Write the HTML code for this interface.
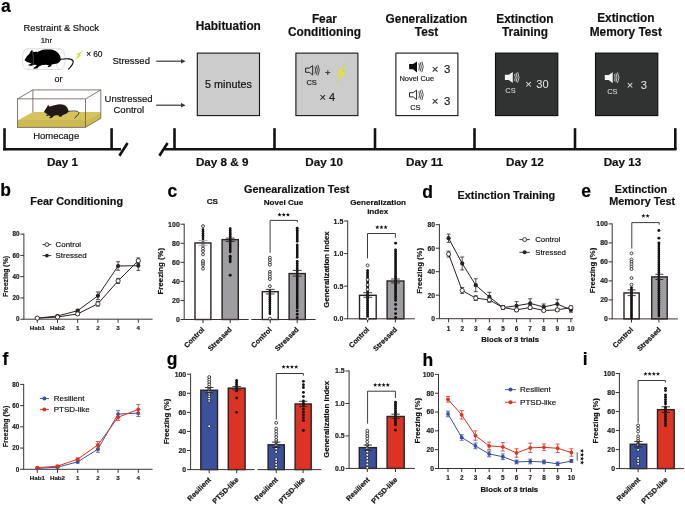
<!DOCTYPE html>
<html><head><meta charset="utf-8"><title>Figure</title>
<style>html,body{margin:0;padding:0;background:#fff;}svg{display:block;will-change:transform;}
text{font-family:"Liberation Sans", sans-serif;}</style></head>
<body><svg width="685" height="505" viewBox="0 0 685 505">
<rect width="685" height="505" fill="#fff"/>
<text x="0.9" y="11.6" font-size="17.5" font-weight="bold" text-anchor="start" fill="#000" stroke="#000" stroke-width="0.18">a</text>
<text x="0.3" y="196.4" font-size="17.5" font-weight="bold" text-anchor="start" fill="#000" stroke="#000" stroke-width="0.18">b</text>
<text x="167.6" y="196.7" font-size="17.5" font-weight="bold" text-anchor="start" fill="#000" stroke="#000" stroke-width="0.18">c</text>
<text x="422.2" y="197.9" font-size="17.5" font-weight="bold" text-anchor="start" fill="#000" stroke="#000" stroke-width="0.18">d</text>
<text x="581.2" y="196.9" font-size="17.5" font-weight="bold" text-anchor="start" fill="#000" stroke="#000" stroke-width="0.18">e</text>
<text x="2.6" y="364.8" font-size="17.5" font-weight="bold" text-anchor="start" fill="#000" stroke="#000" stroke-width="0.18">f</text>
<text x="166.8" y="365.3" font-size="17.5" font-weight="bold" text-anchor="start" fill="#000" stroke="#000" stroke-width="0.18">g</text>
<text x="422.6" y="365.6" font-size="17.5" font-weight="bold" text-anchor="start" fill="#000" stroke="#000" stroke-width="0.18">h</text>
<text x="582.8" y="364.7" font-size="17.5" font-weight="bold" text-anchor="start" fill="#000" stroke="#000" stroke-width="0.18">i</text>
<text x="61.3" y="30.6" font-size="9.45" font-weight="normal" text-anchor="middle" fill="#111" stroke="#111" stroke-width="0.18">Restraint &amp; Shock</text>
<text x="46.4" y="42.6" font-size="7.8" font-weight="normal" text-anchor="middle" fill="#111" stroke="#111" stroke-width="0.18">1hr</text>
<g fill="none" stroke="#c4c4c4" stroke-width="0.55"><path d="M27.2,48.7 L60.2,48.7 C63.2,48.7 65.1,53.5 65.1,59.1 C65.1,64.7 63.2,69.5 60.2,69.5 L27.2,69.5 C24.2,69.5 22.3,64.7 22.3,59.1 C22.3,53.5 24.2,48.7 27.2,48.7 Z"/><path d="M27.2,48.7 C29.8,48.7 31.4,53.5 31.4,59.1 C31.4,64.7 29.8,69.5 27.2,69.5"/><path d="M60.2,48.7 C57.6,48.7 55.6,53.5 55.6,59.1 C55.6,64.7 57.6,69.5 60.2,69.5"/></g>
<path fill="#000" d="M24.6,60.3 C25.2,58.6 26,57.3 26.7,56.4 C27.6,55.3 28.5,54.4 29.4,53.7 L31.1,50.4 L32.1,50 L33.1,51.7 L34.8,52 L36.5,51.4 L37.1,52.3 C38,51.6 39,51 40.1,50.7 C42,49.9 43.7,49.4 45.5,49.4 L50.9,49.4 C53,49.6 54.8,50.3 56.3,51.4 C57.9,52.6 59,53.8 59.6,55.1 C60.2,56.3 60.5,57.3 60.6,58.4 L61,59.4 C60.6,60.4 60.2,61.1 59.6,61.8 C58.9,62.6 58.2,63.1 57.3,63.5 L51.6,64.5 L51.2,66.2 L48.2,67.2 L47.6,66.5 L49.2,65.6 L46.2,64.8 L42.2,65.1 L38.8,66.5 L37.5,68.2 L34.1,68.8 L33.1,68.2 L35.4,66.8 L36.8,65.1 L34.4,64.8 L31.4,65.8 L28.4,65.5 L28.7,64.5 L31.8,63.8 L29.4,62.8 C28.4,62.6 27.5,62.3 26.7,61.8 C25.9,61.4 25.2,60.9 24.6,60.3 Z"/>
<path fill="none" stroke="#000" stroke-width="1.1" stroke-linecap="round" d="M60.6,59.3 C63,59 66,58.6 68.8,58.9 C71.3,59.2 73.4,60.2 73.2,62.2 C73,64.2 71.4,66 70.2,67.3 C69.4,68.1 68.9,68.6 68.6,69.1"/>
<path fill="none" stroke="#b0b0b0" stroke-width="0.4" d="M31.9,50.6 C33.4,54 33.7,59 33.2,63.5 C33,65 32.8,66 32.6,66.8"/>
<polygon fill="#d6e13c" points="82.8,50.9 75.7,54.5 78.4,54.9 74.7,60.1 81.3,55.5 79.5,55.1"/>
<text x="88.8" y="57.3" font-size="8.4" font-weight="normal" text-anchor="middle" fill="#111" stroke="#111" stroke-width="0.18">×</text>
<text x="97.8" y="57.4" font-size="8.4" font-weight="normal" text-anchor="middle" fill="#111" stroke="#111" stroke-width="0.18">60</text>
<text x="58.5" y="81.8" font-size="9.0" font-weight="normal" text-anchor="middle" fill="#111" stroke="#111" stroke-width="0.18">or</text>
<polygon points="17.6,120.4 85.6,120.4 100.8,112 32.9,112" fill="#d6c35e"/>
<polygon points="17.6,120.4 85.6,120.4 85.6,127.3 17.6,127.3" fill="#cfba50"/>
<polygon points="85.6,120.4 100.8,112 100.8,118.3 85.6,127.3" fill="#cfba50"/>
<g fill="none" stroke="#5a4d47" stroke-width="0.75"><rect x="17.6" y="98.9" width="68" height="28.4"/><polyline points="17.6,98.9 32.9,89.9 100.8,89.9 85.6,98.9"/><polyline points="100.8,89.9 100.8,118.3 85.6,127.3"/><line x1="32.9" y1="89.9" x2="32.9" y2="112"/></g>
<line x1="17.6" y1="120.6" x2="85.6" y2="120.6" stroke="#b8a44a" stroke-width="0.6"/>
<path fill="#231815" d="M44,111.8 C44.6,110.6 45.3,109.5 46.1,108.6 L47.8,105.4 L48.4,105 L49.3,106.5 L50.8,106.3 L51.6,106.1 C52.8,105.6 54,105.3 55.4,105.1 C57,104.6 58.5,104.2 60.1,104.2 C61.6,104.2 63,104.5 64.2,105.1 C65.5,105.8 66.5,106.6 67.1,107.4 C67.8,108.4 68.2,109.4 68.3,110.3 L68.6,111.5 C68.4,111.9 68.1,112.2 67.7,112.4 C67,113.2 66.2,113.7 65.4,114.1 L62.4,115.3 L61.3,116.8 L58.9,116.5 L58.4,115.3 L56,115.3 L53.7,115.9 L52.5,117.6 L49.6,118.5 L49.3,117.6 L50.8,116.5 L49,115.6 L46.4,116.1 L46.2,115 L47.8,114.4 L45.5,113 C44.9,112.7 44.4,112.3 44,111.8 Z"/>
<path fill="none" stroke="#231815" stroke-width="0.85" stroke-linecap="round" d="M68.3,111.4 C70,111.2 71.8,111 73.5,111 C75.2,111 76.7,111.2 77.6,111.5 C78.6,112 79,112.6 78.8,113.3 C78.5,114.2 77.9,114.8 77.3,115.5 C76.4,116.4 75.4,117.2 74.7,117.9"/>
<text x="56.2" y="139.3" font-size="9.5" font-weight="normal" text-anchor="middle" fill="#111" stroke="#111" stroke-width="0.18">Homecage</text>
<text x="131.2" y="63.6" font-size="9.5" font-weight="normal" text-anchor="middle" fill="#111" stroke="#111" stroke-width="0.18">Stressed</text>
<text x="128.6" y="102.2" font-size="9.5" font-weight="normal" text-anchor="middle" fill="#111" stroke="#111" stroke-width="0.18">Unstressed</text>
<text x="128.8" y="113.2" font-size="9.5" font-weight="normal" text-anchor="middle" fill="#111" stroke="#111" stroke-width="0.18">Control</text>
<line x1="156.20" y1="61.20" x2="182.60" y2="61.20" stroke="#3d3330" stroke-width="1.2"/>
<polygon points="181.0,59.0 185.6,61.2 181.0,63.400000000000006" fill="#3d3330"/>
<line x1="156.20" y1="105.20" x2="182.60" y2="105.20" stroke="#3d3330" stroke-width="1.2"/>
<polygon points="181.0,103.0 185.6,105.2 181.0,107.4" fill="#3d3330"/>
<line x1="4.50" y1="128.20" x2="4.50" y2="150.40" stroke="#111" stroke-width="2.6"/>
<line x1="3.20" y1="149.20" x2="121.00" y2="149.20" stroke="#111" stroke-width="2.6"/>
<line x1="111.60" y1="128.20" x2="111.60" y2="149.20" stroke="#111" stroke-width="2.6"/>
<line x1="119.40" y1="155.80" x2="127.60" y2="143.00" stroke="#111" stroke-width="2.6"/>
<line x1="159.40" y1="155.80" x2="167.60" y2="143.00" stroke="#111" stroke-width="2.6"/>
<line x1="164.60" y1="149.20" x2="676.60" y2="149.20" stroke="#111" stroke-width="2.6"/>
<line x1="174.50" y1="128.20" x2="174.50" y2="149.20" stroke="#111" stroke-width="2.6"/>
<line x1="274.50" y1="128.20" x2="274.50" y2="149.20" stroke="#111" stroke-width="2.6"/>
<line x1="375.00" y1="128.20" x2="375.00" y2="149.20" stroke="#111" stroke-width="2.6"/>
<line x1="474.50" y1="128.20" x2="474.50" y2="149.20" stroke="#111" stroke-width="2.6"/>
<line x1="575.00" y1="128.20" x2="575.00" y2="149.20" stroke="#111" stroke-width="2.6"/>
<line x1="675.30" y1="128.20" x2="675.30" y2="149.20" stroke="#111" stroke-width="2.6"/>
<text x="62.5" y="166.2" font-size="11.7" font-weight="bold" text-anchor="middle" fill="#111" stroke="#111" stroke-width="0.18">Day 1</text>
<text x="222.2" y="166.2" font-size="11.7" font-weight="bold" text-anchor="middle" fill="#111" stroke="#111" stroke-width="0.18">Day 8 &amp; 9</text>
<text x="324.1" y="166.2" font-size="11.7" font-weight="bold" text-anchor="middle" fill="#111" stroke="#111" stroke-width="0.18">Day 10</text>
<text x="424.6" y="166.2" font-size="11.7" font-weight="bold" text-anchor="middle" fill="#111" stroke="#111" stroke-width="0.18">Day 11</text>
<text x="524.9" y="166.2" font-size="11.7" font-weight="bold" text-anchor="middle" fill="#111" stroke="#111" stroke-width="0.18">Day 12</text>
<text x="622.5" y="166.2" font-size="11.7" font-weight="bold" text-anchor="middle" fill="#111" stroke="#111" stroke-width="0.18">Day 13</text>
<text x="228.3" y="29.8" font-size="11.85" font-weight="bold" text-anchor="middle" fill="#111" stroke="#111" stroke-width="0.18">Habituation</text>
<text x="324.4" y="22.8" font-size="11.85" font-weight="bold" text-anchor="middle" fill="#111" stroke="#111" stroke-width="0.18">Fear</text>
<text x="324.5" y="36.3" font-size="11.85" font-weight="bold" text-anchor="middle" fill="#111" stroke="#111" stroke-width="0.18">Conditioning</text>
<text x="426.4" y="22.8" font-size="11.85" font-weight="bold" text-anchor="middle" fill="#111" stroke="#111" stroke-width="0.18">Generalization</text>
<text x="426.6" y="36.3" font-size="11.85" font-weight="bold" text-anchor="middle" fill="#111" stroke="#111" stroke-width="0.18">Test</text>
<text x="524.9" y="22.8" font-size="11.85" font-weight="bold" text-anchor="middle" fill="#111" stroke="#111" stroke-width="0.18">Extinction</text>
<text x="525.0" y="36.3" font-size="11.85" font-weight="bold" text-anchor="middle" fill="#111" stroke="#111" stroke-width="0.18">Training</text>
<text x="625.8" y="21.9" font-size="11.85" font-weight="bold" text-anchor="middle" fill="#111" stroke="#111" stroke-width="0.18">Extinction</text>
<text x="625.8" y="36.3" font-size="11.85" font-weight="bold" text-anchor="middle" fill="#111" stroke="#111" stroke-width="0.18">Memory Test</text>
<rect x="197.30" y="53.10" width="62.20" height="62.50" fill="#cbcccb" stroke="#161616" stroke-width="1.1"/>
<rect x="295.90" y="53.10" width="62.00" height="62.50" fill="#cbcccb" stroke="#161616" stroke-width="1.1"/>
<rect x="395.90" y="53.10" width="62.00" height="62.50" fill="#ffffff" stroke="#161616" stroke-width="1.1"/>
<rect x="495.50" y="53.10" width="62.30" height="62.50" fill="#313232" stroke="#0c0c0c" stroke-width="1.1"/>
<rect x="595.50" y="53.10" width="62.30" height="62.50" fill="#313232" stroke="#0c0c0c" stroke-width="1.1"/>
<text x="228.4" y="87.9" font-size="10.8" font-weight="normal" text-anchor="middle" fill="#111" stroke="#111" stroke-width="0.18">5 minutes</text>
<path transform="translate(305.0,64.7) scale(1.0)" d="M0.6,3.4 L4.3,3.4 L7.7,0.9 L7.7,10.3 L4.3,7.6 L0.6,7.6 Z" fill="none" stroke="#1a1a1a" stroke-width="0.95" stroke-linejoin="round"/>
<g transform="translate(305.0,64.7) scale(1.0)" fill="none" stroke="#1a1a1a" stroke-width="0.75"><path d="M10.0,2.0 Q11.1,5.5 10.0,9.0"/><path d="M11.4,1.0 Q13.3,5.5 11.4,10.0"/><path d="M12.9,0.2 Q15.8,5.5 12.9,10.8"/></g>
<text x="311.6" y="84.6" font-size="7.5" font-weight="normal" text-anchor="middle" fill="#1a1a1a" stroke="#1a1a1a" stroke-width="0.18">CS</text>
<text x="327.9" y="75.6" font-size="9.6" font-weight="normal" text-anchor="middle" fill="#1a1a1a" stroke="#1a1a1a" stroke-width="0.18">+</text>
<path fill="#e3e545" stroke="#c9c83a" stroke-width="0.3" d="M344.9,62.9 L336.3,73.9 L340.9,73.1 L337.5,82.3 L346.3,71.4 L341.7,72.1 Z"/>
<text x="322.8" y="101.2" font-size="11.0" font-weight="normal" text-anchor="middle" fill="#1a1a1a" stroke="#1a1a1a" stroke-width="0.18">×</text>
<text x="332.1" y="101.2" font-size="11.0" font-weight="normal" text-anchor="middle" fill="#1a1a1a" stroke="#1a1a1a" stroke-width="0.18">4</text>
<path transform="translate(408.9,61.3) scale(1.0)" d="M0.2,2.8 L4.1,2.8 L8.1,0.1 L8.1,11.1 L4.1,7.9 L0.2,7.9 Z" fill="#0d0d0d"/>
<g transform="translate(408.9,61.3) scale(1.0)" fill="none" stroke="#0d0d0d" stroke-width="0.75"><path d="M10.0,2.0 Q11.1,5.5 10.0,9.0"/><path d="M11.4,1.0 Q13.3,5.5 11.4,10.0"/><path d="M12.9,0.2 Q15.8,5.5 12.9,10.8"/></g>
<text x="416.8" y="80.9" font-size="7.45" font-weight="normal" text-anchor="middle" fill="#1a1a1a" stroke="#1a1a1a" stroke-width="0.18">Novel Cue</text>
<text x="435.0" y="72.6" font-size="11.4" font-weight="normal" text-anchor="middle" fill="#1a1a1a" stroke="#1a1a1a" stroke-width="0.18">×</text>
<text x="447.2" y="72.6" font-size="11.4" font-weight="normal" text-anchor="middle" fill="#1a1a1a" stroke="#1a1a1a" stroke-width="0.18">3</text>
<path transform="translate(408.9,89.3) scale(1.0)" d="M0.6,3.4 L4.3,3.4 L7.7,0.9 L7.7,10.3 L4.3,7.6 L0.6,7.6 Z" fill="none" stroke="#1a1a1a" stroke-width="0.95" stroke-linejoin="round"/>
<g transform="translate(408.9,89.3) scale(1.0)" fill="none" stroke="#1a1a1a" stroke-width="0.75"><path d="M10.0,2.0 Q11.1,5.5 10.0,9.0"/><path d="M11.4,1.0 Q13.3,5.5 11.4,10.0"/><path d="M12.9,0.2 Q15.8,5.5 12.9,10.8"/></g>
<text x="415.4" y="109.9" font-size="7.5" font-weight="normal" text-anchor="middle" fill="#1a1a1a" stroke="#1a1a1a" stroke-width="0.18">CS</text>
<text x="435.0" y="104.9" font-size="11.4" font-weight="normal" text-anchor="middle" fill="#1a1a1a" stroke="#1a1a1a" stroke-width="0.18">×</text>
<text x="447.2" y="104.9" font-size="11.4" font-weight="normal" text-anchor="middle" fill="#1a1a1a" stroke="#1a1a1a" stroke-width="0.18">3</text>
<path transform="translate(504.7,72.0) scale(1.0)" d="M0.2,2.8 L4.1,2.8 L8.1,0.1 L8.1,11.1 L4.1,7.9 L0.2,7.9 Z" fill="#f4f4f4"/>
<g transform="translate(504.7,72.0) scale(1.0)" fill="none" stroke="#f4f4f4" stroke-width="0.75"><path d="M10.0,2.0 Q11.1,5.5 10.0,9.0"/><path d="M11.4,1.0 Q13.3,5.5 11.4,10.0"/><path d="M12.9,0.2 Q15.8,5.5 12.9,10.8"/></g>
<text x="510.5" y="92.6" font-size="7.5" font-weight="normal" text-anchor="middle" fill="#e8e8e8">CS</text>
<text x="528.5" y="87.6" font-size="11.2" font-weight="normal" text-anchor="middle" fill="#e8e8e8">×</text>
<text x="542.6" y="87.6" font-size="11.2" font-weight="normal" text-anchor="middle" fill="#e8e8e8">30</text>
<path transform="translate(604.6,72.2) scale(1.0)" d="M0.2,2.8 L4.1,2.8 L8.1,0.1 L8.1,11.1 L4.1,7.9 L0.2,7.9 Z" fill="#f4f4f4"/>
<g transform="translate(604.6,72.2) scale(1.0)" fill="none" stroke="#f4f4f4" stroke-width="0.75"><path d="M10.0,2.0 Q11.1,5.5 10.0,9.0"/><path d="M11.4,1.0 Q13.3,5.5 11.4,10.0"/><path d="M12.9,0.2 Q15.8,5.5 12.9,10.8"/></g>
<text x="612.4" y="93.5" font-size="7.5" font-weight="normal" text-anchor="middle" fill="#e8e8e8">CS</text>
<text x="629.9" y="88.6" font-size="11.2" font-weight="normal" text-anchor="middle" fill="#e8e8e8">×</text>
<text x="643.9" y="88.6" font-size="11.2" font-weight="normal" text-anchor="middle" fill="#e8e8e8">3</text>
<text x="30.3" y="205.3" font-size="10.85" font-weight="bold" text-anchor="start" fill="#111" stroke="#111" stroke-width="0.18">Fear Conditioning</text>
<line x1="23.90" y1="319.20" x2="23.90" y2="233.60" stroke="#3b3230" stroke-width="1.0"/>
<line x1="20.30" y1="319.20" x2="23.90" y2="319.20" stroke="#3b3230" stroke-width="1.0"/>
<text x="19.499999999999996" y="321.46799999999996" font-size="6.3" font-weight="bold" text-anchor="end" fill="#222" stroke="#222" stroke-width="0.18">0</text>
<line x1="20.30" y1="297.93" x2="23.90" y2="297.93" stroke="#3b3230" stroke-width="1.0"/>
<text x="19.499999999999996" y="300.193" font-size="6.3" font-weight="bold" text-anchor="end" fill="#222" stroke="#222" stroke-width="0.18">20</text>
<line x1="20.30" y1="276.65" x2="23.90" y2="276.65" stroke="#3b3230" stroke-width="1.0"/>
<text x="19.499999999999996" y="278.91799999999995" font-size="6.3" font-weight="bold" text-anchor="end" fill="#222" stroke="#222" stroke-width="0.18">40</text>
<line x1="20.30" y1="255.38" x2="23.90" y2="255.38" stroke="#3b3230" stroke-width="1.0"/>
<text x="19.499999999999996" y="257.643" font-size="6.3" font-weight="bold" text-anchor="end" fill="#222" stroke="#222" stroke-width="0.18">60</text>
<line x1="20.30" y1="234.10" x2="23.90" y2="234.10" stroke="#3b3230" stroke-width="1.0"/>
<text x="19.499999999999996" y="236.368" font-size="6.3" font-weight="bold" text-anchor="end" fill="#222" stroke="#222" stroke-width="0.18">80</text>
<line x1="23.40" y1="319.20" x2="152.60" y2="319.20" stroke="#3b3230" stroke-width="1.0"/>
<line x1="37.30" y1="319.20" x2="37.30" y2="322.80" stroke="#3b3230" stroke-width="1.0"/>
<text x="37.3" y="329.9" font-size="6.2" font-weight="bold" text-anchor="middle" fill="#222" stroke="#222" stroke-width="0.18">Hab1</text>
<line x1="57.50" y1="319.20" x2="57.50" y2="322.80" stroke="#3b3230" stroke-width="1.0"/>
<text x="57.5" y="329.9" font-size="6.2" font-weight="bold" text-anchor="middle" fill="#222" stroke="#222" stroke-width="0.18">Hab2</text>
<line x1="77.70" y1="319.20" x2="77.70" y2="322.80" stroke="#3b3230" stroke-width="1.0"/>
<text x="77.69999999999999" y="329.9" font-size="6.2" font-weight="bold" text-anchor="middle" fill="#222" stroke="#222" stroke-width="0.18">1</text>
<line x1="97.90" y1="319.20" x2="97.90" y2="322.80" stroke="#3b3230" stroke-width="1.0"/>
<text x="97.89999999999999" y="329.9" font-size="6.2" font-weight="bold" text-anchor="middle" fill="#222" stroke="#222" stroke-width="0.18">2</text>
<line x1="118.10" y1="319.20" x2="118.10" y2="322.80" stroke="#3b3230" stroke-width="1.0"/>
<text x="118.1" y="329.9" font-size="6.2" font-weight="bold" text-anchor="middle" fill="#222" stroke="#222" stroke-width="0.18">3</text>
<line x1="138.30" y1="319.20" x2="138.30" y2="322.80" stroke="#3b3230" stroke-width="1.0"/>
<text x="138.3" y="329.9" font-size="6.2" font-weight="bold" text-anchor="middle" fill="#222" stroke="#222" stroke-width="0.18">4</text>
<text x="7.8" y="276.5" font-size="6.95" font-weight="bold" text-anchor="middle" fill="#111" stroke="#111" stroke-width="0.18" transform="rotate(-90 7.8 276.5)">Freezing (%)</text>
<polyline points="37.30,318.14 57.50,316.01 77.70,310.69 97.90,295.80 118.10,266.01 138.30,265.69" fill="none" stroke="#2b2222" stroke-width="1.0"/>
<line x1="37.30" y1="317.60" x2="37.30" y2="318.67" stroke="#2b2222" stroke-width="0.8"/>
<line x1="35.30" y1="317.60" x2="39.30" y2="317.60" stroke="#2b2222" stroke-width="0.8"/>
<line x1="35.30" y1="318.67" x2="39.30" y2="318.67" stroke="#2b2222" stroke-width="0.8"/>
<line x1="57.50" y1="315.16" x2="57.50" y2="316.86" stroke="#2b2222" stroke-width="0.8"/>
<line x1="55.50" y1="315.16" x2="59.50" y2="315.16" stroke="#2b2222" stroke-width="0.8"/>
<line x1="55.50" y1="316.86" x2="59.50" y2="316.86" stroke="#2b2222" stroke-width="0.8"/>
<line x1="77.70" y1="309.41" x2="77.70" y2="311.97" stroke="#2b2222" stroke-width="0.8"/>
<line x1="75.70" y1="309.41" x2="79.70" y2="309.41" stroke="#2b2222" stroke-width="0.8"/>
<line x1="75.70" y1="311.97" x2="79.70" y2="311.97" stroke="#2b2222" stroke-width="0.8"/>
<line x1="97.90" y1="291.97" x2="97.90" y2="299.63" stroke="#2b2222" stroke-width="0.8"/>
<line x1="95.90" y1="291.97" x2="99.90" y2="291.97" stroke="#2b2222" stroke-width="0.8"/>
<line x1="95.90" y1="299.63" x2="99.90" y2="299.63" stroke="#2b2222" stroke-width="0.8"/>
<line x1="118.10" y1="261.76" x2="118.10" y2="270.27" stroke="#2b2222" stroke-width="0.8"/>
<line x1="116.10" y1="261.76" x2="120.10" y2="261.76" stroke="#2b2222" stroke-width="0.8"/>
<line x1="116.10" y1="270.27" x2="120.10" y2="270.27" stroke="#2b2222" stroke-width="0.8"/>
<line x1="138.30" y1="261.01" x2="138.30" y2="270.37" stroke="#2b2222" stroke-width="0.8"/>
<line x1="136.30" y1="261.01" x2="140.30" y2="261.01" stroke="#2b2222" stroke-width="0.8"/>
<line x1="136.30" y1="270.37" x2="140.30" y2="270.37" stroke="#2b2222" stroke-width="0.8"/>
<circle cx="37.30" cy="318.14" r="2.1" fill="#2b2222" stroke="none" stroke-width="0"/>
<circle cx="57.50" cy="316.01" r="2.1" fill="#2b2222" stroke="none" stroke-width="0"/>
<circle cx="77.70" cy="310.69" r="2.1" fill="#2b2222" stroke="none" stroke-width="0"/>
<circle cx="97.90" cy="295.80" r="2.1" fill="#2b2222" stroke="none" stroke-width="0"/>
<circle cx="118.10" cy="266.01" r="2.1" fill="#2b2222" stroke="none" stroke-width="0"/>
<circle cx="138.30" cy="265.69" r="2.1" fill="#2b2222" stroke="none" stroke-width="0"/>
<polyline points="37.30,318.14 57.50,317.07 77.70,313.88 97.90,303.78 118.10,280.90 138.30,260.69" fill="none" stroke="#2b2222" stroke-width="1.0"/>
<line x1="37.30" y1="317.50" x2="37.30" y2="318.77" stroke="#2b2222" stroke-width="0.8"/>
<line x1="35.30" y1="317.50" x2="39.30" y2="317.50" stroke="#2b2222" stroke-width="0.8"/>
<line x1="35.30" y1="318.77" x2="39.30" y2="318.77" stroke="#2b2222" stroke-width="0.8"/>
<line x1="57.50" y1="316.22" x2="57.50" y2="317.92" stroke="#2b2222" stroke-width="0.8"/>
<line x1="55.50" y1="316.22" x2="59.50" y2="316.22" stroke="#2b2222" stroke-width="0.8"/>
<line x1="55.50" y1="317.92" x2="59.50" y2="317.92" stroke="#2b2222" stroke-width="0.8"/>
<line x1="77.70" y1="312.60" x2="77.70" y2="315.16" stroke="#2b2222" stroke-width="0.8"/>
<line x1="75.70" y1="312.60" x2="79.70" y2="312.60" stroke="#2b2222" stroke-width="0.8"/>
<line x1="75.70" y1="315.16" x2="79.70" y2="315.16" stroke="#2b2222" stroke-width="0.8"/>
<line x1="97.90" y1="301.44" x2="97.90" y2="306.12" stroke="#2b2222" stroke-width="0.8"/>
<line x1="95.90" y1="301.44" x2="99.90" y2="301.44" stroke="#2b2222" stroke-width="0.8"/>
<line x1="95.90" y1="306.12" x2="99.90" y2="306.12" stroke="#2b2222" stroke-width="0.8"/>
<line x1="118.10" y1="278.35" x2="118.10" y2="283.46" stroke="#2b2222" stroke-width="0.8"/>
<line x1="116.10" y1="278.35" x2="120.10" y2="278.35" stroke="#2b2222" stroke-width="0.8"/>
<line x1="116.10" y1="283.46" x2="120.10" y2="283.46" stroke="#2b2222" stroke-width="0.8"/>
<line x1="138.30" y1="257.93" x2="138.30" y2="263.46" stroke="#2b2222" stroke-width="0.8"/>
<line x1="136.30" y1="257.93" x2="140.30" y2="257.93" stroke="#2b2222" stroke-width="0.8"/>
<line x1="136.30" y1="263.46" x2="140.30" y2="263.46" stroke="#2b2222" stroke-width="0.8"/>
<circle cx="37.30" cy="318.14" r="2.1" fill="#fff" stroke="#2b2222" stroke-width="0.9"/>
<circle cx="57.50" cy="317.07" r="2.1" fill="#fff" stroke="#2b2222" stroke-width="0.9"/>
<circle cx="77.70" cy="313.88" r="2.1" fill="#fff" stroke="#2b2222" stroke-width="0.9"/>
<circle cx="97.90" cy="303.78" r="2.1" fill="#fff" stroke="#2b2222" stroke-width="0.9"/>
<circle cx="118.10" cy="280.90" r="2.1" fill="#fff" stroke="#2b2222" stroke-width="0.9"/>
<circle cx="138.30" cy="260.69" r="2.1" fill="#fff" stroke="#2b2222" stroke-width="0.9"/>
<line x1="42.50" y1="244.60" x2="51.30" y2="244.60" stroke="#2b2222" stroke-width="0.9"/>
<circle cx="46.90" cy="244.60" r="1.9" fill="#fff" stroke="#2b2222" stroke-width="0.9"/>
<text x="55.6" y="246.944" font-size="7.9" font-weight="normal" text-anchor="start" fill="#111" stroke="#111" stroke-width="0.18">Control</text>
<line x1="42.50" y1="255.60" x2="51.30" y2="255.60" stroke="#2b2222" stroke-width="0.9"/>
<circle cx="46.90" cy="255.60" r="1.9" fill="#2b2222" stroke="none" stroke-width="0"/>
<text x="55.6" y="257.944" font-size="7.9" font-weight="normal" text-anchor="start" fill="#111" stroke="#111" stroke-width="0.18">Stressed</text>
<text x="296.7" y="192.5" font-size="10.85" font-weight="bold" text-anchor="middle" fill="#111" stroke="#111" stroke-width="0.18">Genearalization Test</text>
<text x="212.4" y="204.4" font-size="8.1" font-weight="bold" text-anchor="middle" fill="#111" stroke="#111" stroke-width="0.18">CS</text>
<text x="283.5" y="205.2" font-size="8.1" font-weight="bold" text-anchor="middle" fill="#111" stroke="#111" stroke-width="0.18">Novel Cue</text>
<text x="378.2" y="205.0" font-size="8.1" font-weight="bold" text-anchor="middle" fill="#111" stroke="#111" stroke-width="0.18">Generalization</text>
<text x="377.7" y="214.1" font-size="8.1" font-weight="bold" text-anchor="middle" fill="#111" stroke="#111" stroke-width="0.18">index</text>
<line x1="184.20" y1="319.50" x2="184.20" y2="223.70" stroke="#3b3230" stroke-width="1.0"/>
<line x1="180.60" y1="319.50" x2="184.20" y2="319.50" stroke="#3b3230" stroke-width="1.0"/>
<text x="179.79999999999998" y="322.02" font-size="7.0" font-weight="bold" text-anchor="end" fill="#222" stroke="#222" stroke-width="0.18">0</text>
<line x1="180.60" y1="300.44" x2="184.20" y2="300.44" stroke="#3b3230" stroke-width="1.0"/>
<text x="179.79999999999998" y="302.96" font-size="7.0" font-weight="bold" text-anchor="end" fill="#222" stroke="#222" stroke-width="0.18">20</text>
<line x1="180.60" y1="281.38" x2="184.20" y2="281.38" stroke="#3b3230" stroke-width="1.0"/>
<text x="179.79999999999998" y="283.9" font-size="7.0" font-weight="bold" text-anchor="end" fill="#222" stroke="#222" stroke-width="0.18">40</text>
<line x1="180.60" y1="262.32" x2="184.20" y2="262.32" stroke="#3b3230" stroke-width="1.0"/>
<text x="179.79999999999998" y="264.84" font-size="7.0" font-weight="bold" text-anchor="end" fill="#222" stroke="#222" stroke-width="0.18">60</text>
<line x1="180.60" y1="243.26" x2="184.20" y2="243.26" stroke="#3b3230" stroke-width="1.0"/>
<text x="179.79999999999998" y="245.78" font-size="7.0" font-weight="bold" text-anchor="end" fill="#222" stroke="#222" stroke-width="0.18">80</text>
<line x1="180.60" y1="224.20" x2="184.20" y2="224.20" stroke="#3b3230" stroke-width="1.0"/>
<text x="179.79999999999998" y="226.72" font-size="7.0" font-weight="bold" text-anchor="end" fill="#222" stroke="#222" stroke-width="0.18">100</text>
<text x="163.1" y="271.1" font-size="7.85" font-weight="bold" text-anchor="middle" fill="#111" stroke="#111" stroke-width="0.18" transform="rotate(-90 163.1 271.1)">Freezing (%)</text>
<rect x="195.00" y="242.97" width="15.90" height="76.53" fill="#fff" stroke="#2b2222" stroke-width="1.4"/>
<rect x="222.10" y="239.64" width="16.20" height="79.86" fill="#9e9ea2" stroke="#2b2222" stroke-width="1.4"/>
<line x1="183.70" y1="319.50" x2="248.70" y2="319.50" stroke="#3b3230" stroke-width="1.0"/>
<line x1="203.00" y1="319.50" x2="203.00" y2="323.10" stroke="#3b3230" stroke-width="1.0"/>
<line x1="230.20" y1="319.50" x2="230.20" y2="323.10" stroke="#3b3230" stroke-width="1.0"/>
<line x1="203.00" y1="229.44" x2="203.00" y2="242.78" stroke="#141414" stroke-width="2.0" stroke-linecap="round"/>
<g fill="#141414"><circle cx="203.00" cy="229.44" r="1.3"/><circle cx="203.00" cy="231.35" r="1.3"/><circle cx="203.00" cy="233.25" r="1.3"/><circle cx="203.00" cy="235.16" r="1.3"/><circle cx="203.00" cy="237.07" r="1.3"/><circle cx="203.00" cy="238.97" r="1.3"/><circle cx="203.00" cy="240.88" r="1.3"/><circle cx="203.00" cy="242.78" r="1.3"/></g>
<circle cx="203.00" cy="226.11" r="1.45" fill="#fff" stroke="#1a1a1a" stroke-width="0.8"/>
<circle cx="203.00" cy="268.71" r="1.45" fill="#fff" stroke="#1a1a1a" stroke-width="0.8"/>
<circle cx="203.00" cy="265.08" r="1.45" fill="#fff" stroke="#1a1a1a" stroke-width="0.8"/>
<circle cx="203.00" cy="262.80" r="1.45" fill="#fff" stroke="#1a1a1a" stroke-width="0.8"/>
<circle cx="203.00" cy="260.99" r="1.45" fill="#fff" stroke="#1a1a1a" stroke-width="0.8"/>
<circle cx="203.00" cy="254.41" r="1.45" fill="#fff" stroke="#1a1a1a" stroke-width="0.8"/>
<circle cx="203.00" cy="251.07" r="1.45" fill="#fff" stroke="#1a1a1a" stroke-width="0.8"/>
<circle cx="203.00" cy="248.50" r="1.45" fill="#fff" stroke="#1a1a1a" stroke-width="0.8"/>
<circle cx="203.00" cy="245.55" r="1.45" fill="#fff" stroke="#1a1a1a" stroke-width="0.8"/>
<line x1="203.00" y1="245.36" x2="203.00" y2="240.59" stroke="#aaa" stroke-width="0.9"/>
<line x1="198.40" y1="245.36" x2="207.60" y2="245.36" stroke="#aaa" stroke-width="0.9"/>
<line x1="198.40" y1="240.59" x2="207.60" y2="240.59" stroke="#aaa" stroke-width="0.9"/>
<line x1="230.20" y1="228.49" x2="230.20" y2="251.84" stroke="#141414" stroke-width="2.0" stroke-linecap="round"/>
<g fill="#141414"><circle cx="230.20" cy="228.49" r="1.3"/><circle cx="230.20" cy="230.43" r="1.3"/><circle cx="230.20" cy="232.38" r="1.3"/><circle cx="230.20" cy="234.33" r="1.3"/><circle cx="230.20" cy="236.27" r="1.3"/><circle cx="230.20" cy="238.22" r="1.3"/><circle cx="230.20" cy="240.16" r="1.3"/><circle cx="230.20" cy="242.11" r="1.3"/><circle cx="230.20" cy="244.05" r="1.3"/><circle cx="230.20" cy="246.00" r="1.3"/><circle cx="230.20" cy="247.95" r="1.3"/><circle cx="230.20" cy="249.89" r="1.3"/><circle cx="230.20" cy="251.84" r="1.3"/></g>
<circle cx="230.20" cy="275.19" r="1.45" fill="#111" stroke="none" stroke-width="0"/>
<circle cx="230.20" cy="261.84" r="1.45" fill="#111" stroke="none" stroke-width="0"/>
<circle cx="230.20" cy="259.94" r="1.45" fill="#111" stroke="none" stroke-width="0"/>
<circle cx="230.20" cy="258.03" r="1.45" fill="#111" stroke="none" stroke-width="0"/>
<circle cx="230.20" cy="256.13" r="1.45" fill="#111" stroke="none" stroke-width="0"/>
<line x1="230.20" y1="241.54" x2="230.20" y2="238.11" stroke="#2b2222" stroke-width="0.9"/>
<line x1="225.80" y1="241.54" x2="234.60" y2="241.54" stroke="#2b2222" stroke-width="0.9"/>
<line x1="225.80" y1="238.11" x2="234.60" y2="238.11" stroke="#2b2222" stroke-width="0.9"/>
<rect x="262.30" y="291.67" width="15.90" height="27.83" fill="#fff" stroke="#2b2222" stroke-width="1.4"/>
<rect x="289.10" y="273.57" width="16.20" height="45.93" fill="#9e9ea2" stroke="#2b2222" stroke-width="1.4"/>
<line x1="251.30" y1="319.50" x2="315.60" y2="319.50" stroke="#3b3230" stroke-width="1.0"/>
<line x1="270.20" y1="319.50" x2="270.20" y2="323.10" stroke="#3b3230" stroke-width="1.0"/>
<line x1="297.20" y1="319.50" x2="297.20" y2="323.10" stroke="#3b3230" stroke-width="1.0"/>
<line x1="269.90" y1="290.91" x2="269.90" y2="313.78" stroke="#141414" stroke-width="2.0" stroke-linecap="round"/>
<g fill="#141414"><circle cx="269.90" cy="290.91" r="1.3"/><circle cx="269.90" cy="292.99" r="1.3"/><circle cx="269.90" cy="295.07" r="1.3"/><circle cx="269.90" cy="297.15" r="1.3"/><circle cx="269.90" cy="299.23" r="1.3"/><circle cx="269.90" cy="301.31" r="1.3"/><circle cx="269.90" cy="303.39" r="1.3"/><circle cx="269.90" cy="305.46" r="1.3"/><circle cx="269.90" cy="307.54" r="1.3"/><circle cx="269.90" cy="309.62" r="1.3"/><circle cx="269.90" cy="311.70" r="1.3"/><circle cx="269.90" cy="313.78" r="1.3"/></g>
<circle cx="269.90" cy="257.75" r="1.45" fill="#fff" stroke="#1a1a1a" stroke-width="0.8"/>
<circle cx="269.90" cy="260.03" r="1.45" fill="#fff" stroke="#1a1a1a" stroke-width="0.8"/>
<circle cx="269.90" cy="262.70" r="1.45" fill="#fff" stroke="#1a1a1a" stroke-width="0.8"/>
<circle cx="269.90" cy="264.80" r="1.45" fill="#fff" stroke="#1a1a1a" stroke-width="0.8"/>
<circle cx="269.90" cy="271.85" r="1.45" fill="#fff" stroke="#1a1a1a" stroke-width="0.8"/>
<circle cx="269.90" cy="274.33" r="1.45" fill="#fff" stroke="#1a1a1a" stroke-width="0.8"/>
<circle cx="269.90" cy="276.71" r="1.45" fill="#fff" stroke="#1a1a1a" stroke-width="0.8"/>
<circle cx="269.90" cy="279.09" r="1.45" fill="#fff" stroke="#1a1a1a" stroke-width="0.8"/>
<circle cx="269.90" cy="286.14" r="1.45" fill="#fff" stroke="#1a1a1a" stroke-width="0.8"/>
<circle cx="269.90" cy="318.55" r="1.45" fill="#fff" stroke="#1a1a1a" stroke-width="0.8"/>
<line x1="270.20" y1="293.96" x2="270.20" y2="289.39" stroke="#2b2222" stroke-width="0.9"/>
<line x1="265.80" y1="293.96" x2="274.60" y2="293.96" stroke="#2b2222" stroke-width="0.9"/>
<line x1="265.80" y1="289.39" x2="274.60" y2="289.39" stroke="#2b2222" stroke-width="0.9"/>
<line x1="297.20" y1="261.37" x2="297.20" y2="308.06" stroke="#141414" stroke-width="2.0" stroke-linecap="round"/>
<g fill="#141414"><circle cx="297.20" cy="261.37" r="1.3"/><circle cx="297.20" cy="263.40" r="1.3"/><circle cx="297.20" cy="265.43" r="1.3"/><circle cx="297.20" cy="267.46" r="1.3"/><circle cx="297.20" cy="269.49" r="1.3"/><circle cx="297.20" cy="271.52" r="1.3"/><circle cx="297.20" cy="273.55" r="1.3"/><circle cx="297.20" cy="275.58" r="1.3"/><circle cx="297.20" cy="277.61" r="1.3"/><circle cx="297.20" cy="279.64" r="1.3"/><circle cx="297.20" cy="281.67" r="1.3"/><circle cx="297.20" cy="283.70" r="1.3"/><circle cx="297.20" cy="285.73" r="1.3"/><circle cx="297.20" cy="287.76" r="1.3"/><circle cx="297.20" cy="289.79" r="1.3"/><circle cx="297.20" cy="291.82" r="1.3"/><circle cx="297.20" cy="293.85" r="1.3"/><circle cx="297.20" cy="295.88" r="1.3"/><circle cx="297.20" cy="297.91" r="1.3"/><circle cx="297.20" cy="299.94" r="1.3"/><circle cx="297.20" cy="301.97" r="1.3"/><circle cx="297.20" cy="304.00" r="1.3"/><circle cx="297.20" cy="306.03" r="1.3"/><circle cx="297.20" cy="308.06" r="1.3"/></g>
<line x1="297.20" y1="244.88" x2="297.20" y2="257.17" stroke="#141414" stroke-width="2.0" stroke-linecap="round"/>
<g fill="#141414"><circle cx="297.20" cy="244.88" r="1.3"/><circle cx="297.20" cy="246.93" r="1.3"/><circle cx="297.20" cy="248.98" r="1.3"/><circle cx="297.20" cy="251.03" r="1.3"/><circle cx="297.20" cy="253.08" r="1.3"/><circle cx="297.20" cy="255.12" r="1.3"/><circle cx="297.20" cy="257.17" r="1.3"/></g>
<line x1="297.20" y1="230.20" x2="297.20" y2="241.35" stroke="#141414" stroke-width="2.0" stroke-linecap="round"/>
<g fill="#141414"><circle cx="297.20" cy="230.20" r="1.3"/><circle cx="297.20" cy="232.06" r="1.3"/><circle cx="297.20" cy="233.92" r="1.3"/><circle cx="297.20" cy="235.78" r="1.3"/><circle cx="297.20" cy="237.64" r="1.3"/><circle cx="297.20" cy="239.50" r="1.3"/><circle cx="297.20" cy="241.35" r="1.3"/></g>
<circle cx="297.20" cy="228.20" r="1.45" fill="#111" stroke="none" stroke-width="0"/>
<circle cx="297.20" cy="310.92" r="1.45" fill="#111" stroke="none" stroke-width="0"/>
<circle cx="297.20" cy="314.26" r="1.45" fill="#111" stroke="none" stroke-width="0"/>
<circle cx="297.20" cy="317.59" r="1.45" fill="#111" stroke="none" stroke-width="0"/>
<line x1="297.20" y1="276.14" x2="297.20" y2="270.42" stroke="#2b2222" stroke-width="0.9"/>
<line x1="292.80" y1="276.14" x2="301.60" y2="276.14" stroke="#2b2222" stroke-width="0.9"/>
<line x1="292.80" y1="270.42" x2="301.60" y2="270.42" stroke="#2b2222" stroke-width="0.9"/>
<polyline points="270.10,252.80 270.10,220.40 297.40,220.40 297.40,222.30" fill="none" stroke="#2b2323" stroke-width="0.9" stroke-linejoin="miter"/>
<polygon points="279.55,212.60 280.11,214.03 281.64,214.12 280.45,215.09 280.84,216.58 279.55,215.75 278.26,216.58 278.65,215.09 277.46,214.12 278.99,214.03" fill="#111"/>
<polygon points="283.75,212.60 284.31,214.03 285.84,214.12 284.65,215.09 285.04,216.58 283.75,215.75 282.46,216.58 282.85,215.09 281.66,214.12 283.19,214.03" fill="#111"/>
<polygon points="287.95,212.60 288.51,214.03 290.04,214.12 288.85,215.09 289.24,216.58 287.95,215.75 286.66,216.58 287.05,215.09 285.86,214.12 287.39,214.03" fill="#111"/>
<line x1="347.70" y1="318.80" x2="347.70" y2="220.50" stroke="#3b3230" stroke-width="1.0"/>
<line x1="344.10" y1="318.80" x2="347.70" y2="318.80" stroke="#3b3230" stroke-width="1.0"/>
<text x="343.29999999999995" y="321.32" font-size="7.0" font-weight="bold" text-anchor="end" fill="#222" stroke="#222" stroke-width="0.18">0.0</text>
<line x1="344.10" y1="286.20" x2="347.70" y2="286.20" stroke="#3b3230" stroke-width="1.0"/>
<text x="343.29999999999995" y="288.71999999999997" font-size="7.0" font-weight="bold" text-anchor="end" fill="#222" stroke="#222" stroke-width="0.18">0.5</text>
<line x1="344.10" y1="253.60" x2="347.70" y2="253.60" stroke="#3b3230" stroke-width="1.0"/>
<text x="343.29999999999995" y="256.12" font-size="7.0" font-weight="bold" text-anchor="end" fill="#222" stroke="#222" stroke-width="0.18">1.0</text>
<line x1="344.10" y1="221.00" x2="347.70" y2="221.00" stroke="#3b3230" stroke-width="1.0"/>
<text x="343.29999999999995" y="223.52" font-size="7.0" font-weight="bold" text-anchor="end" fill="#222" stroke="#222" stroke-width="0.18">1.5</text>
<text x="328.5" y="269.5" font-size="7.8" font-weight="bold" text-anchor="middle" fill="#111" stroke="#111" stroke-width="0.18" transform="rotate(-90 328.5 269.5)">Generalization index</text>
<rect x="359.50" y="295.33" width="16.70" height="23.47" fill="#fff" stroke="#2b2222" stroke-width="1.4"/>
<rect x="387.10" y="280.98" width="16.80" height="37.82" fill="#9e9ea2" stroke="#2b2222" stroke-width="1.4"/>
<line x1="347.20" y1="318.80" x2="414.80" y2="318.80" stroke="#3b3230" stroke-width="1.0"/>
<line x1="367.60" y1="318.80" x2="367.60" y2="322.40" stroke="#3b3230" stroke-width="1.0"/>
<line x1="395.40" y1="318.80" x2="395.40" y2="322.40" stroke="#3b3230" stroke-width="1.0"/>
<line x1="367.60" y1="270.55" x2="367.60" y2="316.19" stroke="#141414" stroke-width="2.0" stroke-linecap="round"/>
<g fill="#141414"><circle cx="367.60" cy="270.55" r="1.3"/><circle cx="367.60" cy="272.54" r="1.3"/><circle cx="367.60" cy="274.52" r="1.3"/><circle cx="367.60" cy="276.51" r="1.3"/><circle cx="367.60" cy="278.49" r="1.3"/><circle cx="367.60" cy="280.47" r="1.3"/><circle cx="367.60" cy="282.46" r="1.3"/><circle cx="367.60" cy="284.44" r="1.3"/><circle cx="367.60" cy="286.43" r="1.3"/><circle cx="367.60" cy="288.41" r="1.3"/><circle cx="367.60" cy="290.40" r="1.3"/><circle cx="367.60" cy="292.38" r="1.3"/><circle cx="367.60" cy="294.36" r="1.3"/><circle cx="367.60" cy="296.35" r="1.3"/><circle cx="367.60" cy="298.33" r="1.3"/><circle cx="367.60" cy="300.32" r="1.3"/><circle cx="367.60" cy="302.30" r="1.3"/><circle cx="367.60" cy="304.29" r="1.3"/><circle cx="367.60" cy="306.27" r="1.3"/><circle cx="367.60" cy="308.25" r="1.3"/><circle cx="367.60" cy="310.24" r="1.3"/><circle cx="367.60" cy="312.22" r="1.3"/><circle cx="367.60" cy="314.21" r="1.3"/><circle cx="367.60" cy="316.19" r="1.3"/></g>
<circle cx="367.60" cy="265.34" r="1.45" fill="#fff" stroke="#1a1a1a" stroke-width="0.8"/>
<circle cx="367.60" cy="318.80" r="1.45" fill="#fff" stroke="#1a1a1a" stroke-width="0.8"/>
<circle cx="367.60" cy="279.68" r="1.45" fill="#fff" stroke="#1a1a1a" stroke-width="0.8"/>
<circle cx="367.60" cy="284.90" r="1.45" fill="#fff" stroke="#1a1a1a" stroke-width="0.8"/>
<circle cx="367.60" cy="289.46" r="1.45" fill="#fff" stroke="#1a1a1a" stroke-width="0.8"/>
<line x1="367.80" y1="297.28" x2="367.80" y2="292.72" stroke="#2b2222" stroke-width="0.9"/>
<line x1="363.40" y1="297.28" x2="372.20" y2="297.28" stroke="#2b2222" stroke-width="0.9"/>
<line x1="363.40" y1="292.72" x2="372.20" y2="292.72" stroke="#2b2222" stroke-width="0.9"/>
<line x1="395.60" y1="249.69" x2="395.60" y2="300.54" stroke="#141414" stroke-width="2.0" stroke-linecap="round"/>
<g fill="#141414"><circle cx="395.60" cy="249.69" r="1.3"/><circle cx="395.60" cy="251.72" r="1.3"/><circle cx="395.60" cy="253.76" r="1.3"/><circle cx="395.60" cy="255.79" r="1.3"/><circle cx="395.60" cy="257.82" r="1.3"/><circle cx="395.60" cy="259.86" r="1.3"/><circle cx="395.60" cy="261.89" r="1.3"/><circle cx="395.60" cy="263.93" r="1.3"/><circle cx="395.60" cy="265.96" r="1.3"/><circle cx="395.60" cy="268.00" r="1.3"/><circle cx="395.60" cy="270.03" r="1.3"/><circle cx="395.60" cy="272.06" r="1.3"/><circle cx="395.60" cy="274.10" r="1.3"/><circle cx="395.60" cy="276.13" r="1.3"/><circle cx="395.60" cy="278.17" r="1.3"/><circle cx="395.60" cy="280.20" r="1.3"/><circle cx="395.60" cy="282.24" r="1.3"/><circle cx="395.60" cy="284.27" r="1.3"/><circle cx="395.60" cy="286.30" r="1.3"/><circle cx="395.60" cy="288.34" r="1.3"/><circle cx="395.60" cy="290.37" r="1.3"/><circle cx="395.60" cy="292.41" r="1.3"/><circle cx="395.60" cy="294.44" r="1.3"/><circle cx="395.60" cy="296.48" r="1.3"/><circle cx="395.60" cy="298.51" r="1.3"/><circle cx="395.60" cy="300.54" r="1.3"/></g>
<circle cx="395.60" cy="243.17" r="1.45" fill="#111" stroke="none" stroke-width="0"/>
<circle cx="395.60" cy="304.46" r="1.45" fill="#111" stroke="none" stroke-width="0"/>
<circle cx="395.60" cy="309.02" r="1.45" fill="#111" stroke="none" stroke-width="0"/>
<circle cx="395.60" cy="313.58" r="1.45" fill="#111" stroke="none" stroke-width="0"/>
<circle cx="395.60" cy="317.50" r="1.45" fill="#111" stroke="none" stroke-width="0"/>
<line x1="395.50" y1="282.94" x2="395.50" y2="279.03" stroke="#2b2222" stroke-width="0.9"/>
<line x1="391.10" y1="282.94" x2="399.90" y2="282.94" stroke="#2b2222" stroke-width="0.9"/>
<line x1="391.10" y1="279.03" x2="399.90" y2="279.03" stroke="#2b2222" stroke-width="0.9"/>
<polyline points="367.50,258.40 367.50,233.50 395.40,233.50 395.40,237.60" fill="none" stroke="#2b2323" stroke-width="0.9" stroke-linejoin="miter"/>
<polygon points="377.25,225.00 377.81,226.43 379.34,226.52 378.15,227.49 378.54,228.98 377.25,228.15 375.96,228.98 376.35,227.49 375.16,226.52 376.69,226.43" fill="#111"/>
<polygon points="381.45,225.00 382.01,226.43 383.54,226.52 382.35,227.49 382.74,228.98 381.45,228.15 380.16,228.98 380.55,227.49 379.36,226.52 380.89,226.43" fill="#111"/>
<polygon points="385.65,225.00 386.21,226.43 387.74,226.52 386.55,227.49 386.94,228.98 385.65,228.15 384.36,228.98 384.75,227.49 383.56,226.52 385.09,226.43" fill="#111"/>
<text x="506.4" y="199.3" font-size="10.85" font-weight="bold" text-anchor="middle" fill="#111" stroke="#111" stroke-width="0.18">Extinction Training</text>
<line x1="439.40" y1="318.70" x2="439.40" y2="224.20" stroke="#3b3230" stroke-width="1.0"/>
<line x1="435.80" y1="318.70" x2="439.40" y2="318.70" stroke="#3b3230" stroke-width="1.0"/>
<text x="434.99999999999994" y="321.14799999999997" font-size="6.8" font-weight="bold" text-anchor="end" fill="#222" stroke="#222" stroke-width="0.18">0</text>
<line x1="435.80" y1="295.20" x2="439.40" y2="295.20" stroke="#3b3230" stroke-width="1.0"/>
<text x="434.99999999999994" y="297.64799999999997" font-size="6.8" font-weight="bold" text-anchor="end" fill="#222" stroke="#222" stroke-width="0.18">20</text>
<line x1="435.80" y1="271.70" x2="439.40" y2="271.70" stroke="#3b3230" stroke-width="1.0"/>
<text x="434.99999999999994" y="274.14799999999997" font-size="6.8" font-weight="bold" text-anchor="end" fill="#222" stroke="#222" stroke-width="0.18">40</text>
<line x1="435.80" y1="248.20" x2="439.40" y2="248.20" stroke="#3b3230" stroke-width="1.0"/>
<text x="434.99999999999994" y="250.648" font-size="6.8" font-weight="bold" text-anchor="end" fill="#222" stroke="#222" stroke-width="0.18">60</text>
<line x1="435.80" y1="224.70" x2="439.40" y2="224.70" stroke="#3b3230" stroke-width="1.0"/>
<text x="434.99999999999994" y="227.148" font-size="6.8" font-weight="bold" text-anchor="end" fill="#222" stroke="#222" stroke-width="0.18">80</text>
<line x1="438.90" y1="318.70" x2="573.00" y2="318.70" stroke="#3b3230" stroke-width="1.0"/>
<line x1="448.60" y1="318.70" x2="448.60" y2="322.30" stroke="#3b3230" stroke-width="1.0"/>
<text x="448.6" y="330.5" font-size="6.4" font-weight="bold" text-anchor="middle" fill="#222" stroke="#222" stroke-width="0.18">1</text>
<line x1="462.19" y1="318.70" x2="462.19" y2="322.30" stroke="#3b3230" stroke-width="1.0"/>
<text x="462.19" y="330.5" font-size="6.4" font-weight="bold" text-anchor="middle" fill="#222" stroke="#222" stroke-width="0.18">2</text>
<line x1="475.78" y1="318.70" x2="475.78" y2="322.30" stroke="#3b3230" stroke-width="1.0"/>
<text x="475.78000000000003" y="330.5" font-size="6.4" font-weight="bold" text-anchor="middle" fill="#222" stroke="#222" stroke-width="0.18">3</text>
<line x1="489.37" y1="318.70" x2="489.37" y2="322.30" stroke="#3b3230" stroke-width="1.0"/>
<text x="489.37" y="330.5" font-size="6.4" font-weight="bold" text-anchor="middle" fill="#222" stroke="#222" stroke-width="0.18">4</text>
<line x1="502.96" y1="318.70" x2="502.96" y2="322.30" stroke="#3b3230" stroke-width="1.0"/>
<text x="502.96000000000004" y="330.5" font-size="6.4" font-weight="bold" text-anchor="middle" fill="#222" stroke="#222" stroke-width="0.18">5</text>
<line x1="516.55" y1="318.70" x2="516.55" y2="322.30" stroke="#3b3230" stroke-width="1.0"/>
<text x="516.5500000000001" y="330.5" font-size="6.4" font-weight="bold" text-anchor="middle" fill="#222" stroke="#222" stroke-width="0.18">6</text>
<line x1="530.14" y1="318.70" x2="530.14" y2="322.30" stroke="#3b3230" stroke-width="1.0"/>
<text x="530.14" y="330.5" font-size="6.4" font-weight="bold" text-anchor="middle" fill="#222" stroke="#222" stroke-width="0.18">7</text>
<line x1="543.73" y1="318.70" x2="543.73" y2="322.30" stroke="#3b3230" stroke-width="1.0"/>
<text x="543.73" y="330.5" font-size="6.4" font-weight="bold" text-anchor="middle" fill="#222" stroke="#222" stroke-width="0.18">8</text>
<line x1="557.32" y1="318.70" x2="557.32" y2="322.30" stroke="#3b3230" stroke-width="1.0"/>
<text x="557.32" y="330.5" font-size="6.4" font-weight="bold" text-anchor="middle" fill="#222" stroke="#222" stroke-width="0.18">9</text>
<line x1="570.91" y1="318.70" x2="570.91" y2="322.30" stroke="#3b3230" stroke-width="1.0"/>
<text x="570.9100000000001" y="330.5" font-size="6.4" font-weight="bold" text-anchor="middle" fill="#222" stroke="#222" stroke-width="0.18">10</text>
<text x="510.1" y="341.9" font-size="7.75" font-weight="bold" text-anchor="middle" fill="#111" stroke="#111" stroke-width="0.18">Block of 3 trials</text>
<text x="421.9" y="270.9" font-size="7.7" font-weight="bold" text-anchor="middle" fill="#111" stroke="#111" stroke-width="0.18" transform="rotate(-90 421.9 270.9)">Freezing (%)</text>
<polyline points="448.60,238.21 462.19,263.47 475.78,285.21 489.37,296.96 502.96,307.54 516.55,305.77 530.14,303.43 543.73,306.95 557.32,304.01 570.91,309.89" fill="none" stroke="#2b2222" stroke-width="1.0"/>
<line x1="448.60" y1="234.10" x2="448.60" y2="242.32" stroke="#2b2222" stroke-width="0.8"/>
<line x1="446.60" y1="234.10" x2="450.60" y2="234.10" stroke="#2b2222" stroke-width="0.8"/>
<line x1="446.60" y1="242.32" x2="450.60" y2="242.32" stroke="#2b2222" stroke-width="0.8"/>
<line x1="462.19" y1="257.01" x2="462.19" y2="269.94" stroke="#2b2222" stroke-width="0.8"/>
<line x1="460.19" y1="257.01" x2="464.19" y2="257.01" stroke="#2b2222" stroke-width="0.8"/>
<line x1="460.19" y1="269.94" x2="464.19" y2="269.94" stroke="#2b2222" stroke-width="0.8"/>
<line x1="475.78" y1="278.75" x2="475.78" y2="291.67" stroke="#2b2222" stroke-width="0.8"/>
<line x1="473.78" y1="278.75" x2="477.78" y2="278.75" stroke="#2b2222" stroke-width="0.8"/>
<line x1="473.78" y1="291.67" x2="477.78" y2="291.67" stroke="#2b2222" stroke-width="0.8"/>
<line x1="489.37" y1="292.26" x2="489.37" y2="301.66" stroke="#2b2222" stroke-width="0.8"/>
<line x1="487.37" y1="292.26" x2="491.37" y2="292.26" stroke="#2b2222" stroke-width="0.8"/>
<line x1="487.37" y1="301.66" x2="491.37" y2="301.66" stroke="#2b2222" stroke-width="0.8"/>
<line x1="502.96" y1="305.77" x2="502.96" y2="309.30" stroke="#2b2222" stroke-width="0.8"/>
<line x1="500.96" y1="305.77" x2="504.96" y2="305.77" stroke="#2b2222" stroke-width="0.8"/>
<line x1="500.96" y1="309.30" x2="504.96" y2="309.30" stroke="#2b2222" stroke-width="0.8"/>
<line x1="516.55" y1="301.66" x2="516.55" y2="309.89" stroke="#2b2222" stroke-width="0.8"/>
<line x1="514.55" y1="301.66" x2="518.55" y2="301.66" stroke="#2b2222" stroke-width="0.8"/>
<line x1="514.55" y1="309.89" x2="518.55" y2="309.89" stroke="#2b2222" stroke-width="0.8"/>
<line x1="530.14" y1="298.73" x2="530.14" y2="308.12" stroke="#2b2222" stroke-width="0.8"/>
<line x1="528.14" y1="298.73" x2="532.14" y2="298.73" stroke="#2b2222" stroke-width="0.8"/>
<line x1="528.14" y1="308.12" x2="532.14" y2="308.12" stroke="#2b2222" stroke-width="0.8"/>
<line x1="543.73" y1="304.01" x2="543.73" y2="309.89" stroke="#2b2222" stroke-width="0.8"/>
<line x1="541.73" y1="304.01" x2="545.73" y2="304.01" stroke="#2b2222" stroke-width="0.8"/>
<line x1="541.73" y1="309.89" x2="545.73" y2="309.89" stroke="#2b2222" stroke-width="0.8"/>
<line x1="557.32" y1="299.31" x2="557.32" y2="308.71" stroke="#2b2222" stroke-width="0.8"/>
<line x1="555.32" y1="299.31" x2="559.32" y2="299.31" stroke="#2b2222" stroke-width="0.8"/>
<line x1="555.32" y1="308.71" x2="559.32" y2="308.71" stroke="#2b2222" stroke-width="0.8"/>
<line x1="570.91" y1="307.54" x2="570.91" y2="312.24" stroke="#2b2222" stroke-width="0.8"/>
<line x1="568.91" y1="307.54" x2="572.91" y2="307.54" stroke="#2b2222" stroke-width="0.8"/>
<line x1="568.91" y1="312.24" x2="572.91" y2="312.24" stroke="#2b2222" stroke-width="0.8"/>
<circle cx="448.60" cy="238.21" r="2.1" fill="#2b2222" stroke="none" stroke-width="0"/>
<circle cx="462.19" cy="263.47" r="2.1" fill="#2b2222" stroke="none" stroke-width="0"/>
<circle cx="475.78" cy="285.21" r="2.1" fill="#2b2222" stroke="none" stroke-width="0"/>
<circle cx="489.37" cy="296.96" r="2.1" fill="#2b2222" stroke="none" stroke-width="0"/>
<circle cx="502.96" cy="307.54" r="2.1" fill="#2b2222" stroke="none" stroke-width="0"/>
<circle cx="516.55" cy="305.77" r="2.1" fill="#2b2222" stroke="none" stroke-width="0"/>
<circle cx="530.14" cy="303.43" r="2.1" fill="#2b2222" stroke="none" stroke-width="0"/>
<circle cx="543.73" cy="306.95" r="2.1" fill="#2b2222" stroke="none" stroke-width="0"/>
<circle cx="557.32" cy="304.01" r="2.1" fill="#2b2222" stroke="none" stroke-width="0"/>
<circle cx="570.91" cy="309.89" r="2.1" fill="#2b2222" stroke="none" stroke-width="0"/>
<polyline points="448.60,254.07 462.19,290.50 475.78,298.14 489.37,299.90 502.96,307.54 516.55,309.89 530.14,307.54 543.73,310.47 557.32,309.89 570.91,307.54" fill="none" stroke="#2b2222" stroke-width="1.0"/>
<line x1="448.60" y1="251.14" x2="448.60" y2="257.01" stroke="#2b2222" stroke-width="0.8"/>
<line x1="446.60" y1="251.14" x2="450.60" y2="251.14" stroke="#2b2222" stroke-width="0.8"/>
<line x1="446.60" y1="257.01" x2="450.60" y2="257.01" stroke="#2b2222" stroke-width="0.8"/>
<line x1="462.19" y1="287.56" x2="462.19" y2="293.44" stroke="#2b2222" stroke-width="0.8"/>
<line x1="460.19" y1="287.56" x2="464.19" y2="287.56" stroke="#2b2222" stroke-width="0.8"/>
<line x1="460.19" y1="293.44" x2="464.19" y2="293.44" stroke="#2b2222" stroke-width="0.8"/>
<line x1="475.78" y1="295.79" x2="475.78" y2="300.49" stroke="#2b2222" stroke-width="0.8"/>
<line x1="473.78" y1="295.79" x2="477.78" y2="295.79" stroke="#2b2222" stroke-width="0.8"/>
<line x1="473.78" y1="300.49" x2="477.78" y2="300.49" stroke="#2b2222" stroke-width="0.8"/>
<line x1="489.37" y1="297.55" x2="489.37" y2="302.25" stroke="#2b2222" stroke-width="0.8"/>
<line x1="487.37" y1="297.55" x2="491.37" y2="297.55" stroke="#2b2222" stroke-width="0.8"/>
<line x1="487.37" y1="302.25" x2="491.37" y2="302.25" stroke="#2b2222" stroke-width="0.8"/>
<line x1="502.96" y1="306.13" x2="502.96" y2="308.95" stroke="#2b2222" stroke-width="0.8"/>
<line x1="500.96" y1="306.13" x2="504.96" y2="306.13" stroke="#2b2222" stroke-width="0.8"/>
<line x1="500.96" y1="308.95" x2="504.96" y2="308.95" stroke="#2b2222" stroke-width="0.8"/>
<line x1="516.55" y1="308.12" x2="516.55" y2="311.65" stroke="#2b2222" stroke-width="0.8"/>
<line x1="514.55" y1="308.12" x2="518.55" y2="308.12" stroke="#2b2222" stroke-width="0.8"/>
<line x1="514.55" y1="311.65" x2="518.55" y2="311.65" stroke="#2b2222" stroke-width="0.8"/>
<line x1="530.14" y1="305.77" x2="530.14" y2="309.30" stroke="#2b2222" stroke-width="0.8"/>
<line x1="528.14" y1="305.77" x2="532.14" y2="305.77" stroke="#2b2222" stroke-width="0.8"/>
<line x1="528.14" y1="309.30" x2="532.14" y2="309.30" stroke="#2b2222" stroke-width="0.8"/>
<line x1="543.73" y1="309.30" x2="543.73" y2="311.65" stroke="#2b2222" stroke-width="0.8"/>
<line x1="541.73" y1="309.30" x2="545.73" y2="309.30" stroke="#2b2222" stroke-width="0.8"/>
<line x1="541.73" y1="311.65" x2="545.73" y2="311.65" stroke="#2b2222" stroke-width="0.8"/>
<line x1="557.32" y1="308.48" x2="557.32" y2="311.30" stroke="#2b2222" stroke-width="0.8"/>
<line x1="555.32" y1="308.48" x2="559.32" y2="308.48" stroke="#2b2222" stroke-width="0.8"/>
<line x1="555.32" y1="311.30" x2="559.32" y2="311.30" stroke="#2b2222" stroke-width="0.8"/>
<line x1="570.91" y1="306.13" x2="570.91" y2="308.95" stroke="#2b2222" stroke-width="0.8"/>
<line x1="568.91" y1="306.13" x2="572.91" y2="306.13" stroke="#2b2222" stroke-width="0.8"/>
<line x1="568.91" y1="308.95" x2="572.91" y2="308.95" stroke="#2b2222" stroke-width="0.8"/>
<circle cx="448.60" cy="254.07" r="2.1" fill="#fff" stroke="#2b2222" stroke-width="0.9"/>
<circle cx="462.19" cy="290.50" r="2.1" fill="#fff" stroke="#2b2222" stroke-width="0.9"/>
<circle cx="475.78" cy="298.14" r="2.1" fill="#fff" stroke="#2b2222" stroke-width="0.9"/>
<circle cx="489.37" cy="299.90" r="2.1" fill="#fff" stroke="#2b2222" stroke-width="0.9"/>
<circle cx="502.96" cy="307.54" r="2.1" fill="#fff" stroke="#2b2222" stroke-width="0.9"/>
<circle cx="516.55" cy="309.89" r="2.1" fill="#fff" stroke="#2b2222" stroke-width="0.9"/>
<circle cx="530.14" cy="307.54" r="2.1" fill="#fff" stroke="#2b2222" stroke-width="0.9"/>
<circle cx="543.73" cy="310.47" r="2.1" fill="#fff" stroke="#2b2222" stroke-width="0.9"/>
<circle cx="557.32" cy="309.89" r="2.1" fill="#fff" stroke="#2b2222" stroke-width="0.9"/>
<circle cx="570.91" cy="307.54" r="2.1" fill="#fff" stroke="#2b2222" stroke-width="0.9"/>
<line x1="519.40" y1="239.60" x2="529.90" y2="239.60" stroke="#2b2222" stroke-width="0.9"/>
<circle cx="524.65" cy="239.60" r="2.0" fill="#fff" stroke="#2b2222" stroke-width="0.9"/>
<text x="535.2" y="241.908" font-size="7.8" font-weight="normal" text-anchor="start" fill="#111" stroke="#111" stroke-width="0.18">Control</text>
<line x1="519.40" y1="252.30" x2="529.90" y2="252.30" stroke="#2b2222" stroke-width="0.9"/>
<circle cx="524.65" cy="252.30" r="2.0" fill="#2b2222" stroke="none" stroke-width="0"/>
<text x="535.2" y="254.608" font-size="7.8" font-weight="normal" text-anchor="start" fill="#111" stroke="#111" stroke-width="0.18">Stressed</text>
<text x="641.0" y="192.5" font-size="10.85" font-weight="bold" text-anchor="middle" fill="#111" stroke="#111" stroke-width="0.18">Extinction</text>
<text x="642.2" y="205.0" font-size="10.85" font-weight="bold" text-anchor="middle" fill="#111" stroke="#111" stroke-width="0.18">Memory Test</text>
<line x1="612.20" y1="318.90" x2="612.20" y2="223.40" stroke="#3b3230" stroke-width="1.0"/>
<line x1="608.60" y1="318.90" x2="612.20" y2="318.90" stroke="#3b3230" stroke-width="1.0"/>
<text x="607.8000000000001" y="321.38399999999996" font-size="6.9" font-weight="bold" text-anchor="end" fill="#222" stroke="#222" stroke-width="0.18">0</text>
<line x1="608.60" y1="299.90" x2="612.20" y2="299.90" stroke="#3b3230" stroke-width="1.0"/>
<text x="607.8000000000001" y="302.38399999999996" font-size="6.9" font-weight="bold" text-anchor="end" fill="#222" stroke="#222" stroke-width="0.18">20</text>
<line x1="608.60" y1="280.90" x2="612.20" y2="280.90" stroke="#3b3230" stroke-width="1.0"/>
<text x="607.8000000000001" y="283.38399999999996" font-size="6.9" font-weight="bold" text-anchor="end" fill="#222" stroke="#222" stroke-width="0.18">40</text>
<line x1="608.60" y1="261.90" x2="612.20" y2="261.90" stroke="#3b3230" stroke-width="1.0"/>
<text x="607.8000000000001" y="264.38399999999996" font-size="6.9" font-weight="bold" text-anchor="end" fill="#222" stroke="#222" stroke-width="0.18">60</text>
<line x1="608.60" y1="242.90" x2="612.20" y2="242.90" stroke="#3b3230" stroke-width="1.0"/>
<text x="607.8000000000001" y="245.38400000000001" font-size="6.9" font-weight="bold" text-anchor="end" fill="#222" stroke="#222" stroke-width="0.18">80</text>
<line x1="608.60" y1="223.90" x2="612.20" y2="223.90" stroke="#3b3230" stroke-width="1.0"/>
<text x="607.8000000000001" y="226.38400000000001" font-size="6.9" font-weight="bold" text-anchor="end" fill="#222" stroke="#222" stroke-width="0.18">100</text>
<text x="594.5" y="270.5" font-size="7.65" font-weight="bold" text-anchor="middle" fill="#111" stroke="#111" stroke-width="0.18" transform="rotate(-90 594.5 270.5)">Freezing (%)</text>
<rect x="624.00" y="292.96" width="15.20" height="25.94" fill="#fff" stroke="#2b2222" stroke-width="1.4"/>
<rect x="651.70" y="276.91" width="15.50" height="41.99" fill="#9e9ea2" stroke="#2b2222" stroke-width="1.4"/>
<line x1="611.70" y1="318.90" x2="677.90" y2="318.90" stroke="#3b3230" stroke-width="1.0"/>
<line x1="631.50" y1="318.90" x2="631.50" y2="322.50" stroke="#3b3230" stroke-width="1.0"/>
<line x1="658.90" y1="318.90" x2="658.90" y2="322.50" stroke="#3b3230" stroke-width="1.0"/>
<line x1="631.50" y1="287.55" x2="631.50" y2="317.95" stroke="#141414" stroke-width="2.0" stroke-linecap="round"/>
<g fill="#141414"><circle cx="631.50" cy="287.55" r="1.3"/><circle cx="631.50" cy="289.58" r="1.3"/><circle cx="631.50" cy="291.60" r="1.3"/><circle cx="631.50" cy="293.63" r="1.3"/><circle cx="631.50" cy="295.66" r="1.3"/><circle cx="631.50" cy="297.68" r="1.3"/><circle cx="631.50" cy="299.71" r="1.3"/><circle cx="631.50" cy="301.74" r="1.3"/><circle cx="631.50" cy="303.76" r="1.3"/><circle cx="631.50" cy="305.79" r="1.3"/><circle cx="631.50" cy="307.82" r="1.3"/><circle cx="631.50" cy="309.84" r="1.3"/><circle cx="631.50" cy="311.87" r="1.3"/><circle cx="631.50" cy="313.90" r="1.3"/><circle cx="631.50" cy="315.92" r="1.3"/><circle cx="631.50" cy="317.95" r="1.3"/></g>
<circle cx="631.50" cy="253.35" r="1.45" fill="#fff" stroke="#1a1a1a" stroke-width="0.8"/>
<circle cx="631.50" cy="259.52" r="1.45" fill="#fff" stroke="#1a1a1a" stroke-width="0.8"/>
<circle cx="631.50" cy="261.90" r="1.45" fill="#fff" stroke="#1a1a1a" stroke-width="0.8"/>
<circle cx="631.50" cy="264.27" r="1.45" fill="#fff" stroke="#1a1a1a" stroke-width="0.8"/>
<circle cx="631.50" cy="266.65" r="1.45" fill="#fff" stroke="#1a1a1a" stroke-width="0.8"/>
<circle cx="631.50" cy="269.02" r="1.45" fill="#fff" stroke="#1a1a1a" stroke-width="0.8"/>
<circle cx="631.50" cy="278.05" r="1.45" fill="#fff" stroke="#1a1a1a" stroke-width="0.8"/>
<circle cx="631.50" cy="284.70" r="1.45" fill="#fff" stroke="#1a1a1a" stroke-width="0.8"/>
<line x1="631.60" y1="295.62" x2="631.60" y2="289.93" stroke="#2b2222" stroke-width="0.9"/>
<line x1="627.60" y1="295.62" x2="635.60" y2="295.62" stroke="#2b2222" stroke-width="0.9"/>
<line x1="627.60" y1="289.93" x2="635.60" y2="289.93" stroke="#2b2222" stroke-width="0.9"/>
<line x1="658.90" y1="244.80" x2="658.90" y2="316.05" stroke="#141414" stroke-width="2.0" stroke-linecap="round"/>
<g fill="#141414"><circle cx="658.90" cy="244.80" r="1.3"/><circle cx="658.90" cy="246.78" r="1.3"/><circle cx="658.90" cy="248.76" r="1.3"/><circle cx="658.90" cy="250.74" r="1.3"/><circle cx="658.90" cy="252.72" r="1.3"/><circle cx="658.90" cy="254.70" r="1.3"/><circle cx="658.90" cy="256.68" r="1.3"/><circle cx="658.90" cy="258.65" r="1.3"/><circle cx="658.90" cy="260.63" r="1.3"/><circle cx="658.90" cy="262.61" r="1.3"/><circle cx="658.90" cy="264.59" r="1.3"/><circle cx="658.90" cy="266.57" r="1.3"/><circle cx="658.90" cy="268.55" r="1.3"/><circle cx="658.90" cy="270.53" r="1.3"/><circle cx="658.90" cy="272.51" r="1.3"/><circle cx="658.90" cy="274.49" r="1.3"/><circle cx="658.90" cy="276.47" r="1.3"/><circle cx="658.90" cy="278.45" r="1.3"/><circle cx="658.90" cy="280.42" r="1.3"/><circle cx="658.90" cy="282.40" r="1.3"/><circle cx="658.90" cy="284.38" r="1.3"/><circle cx="658.90" cy="286.36" r="1.3"/><circle cx="658.90" cy="288.34" r="1.3"/><circle cx="658.90" cy="290.32" r="1.3"/><circle cx="658.90" cy="292.30" r="1.3"/><circle cx="658.90" cy="294.28" r="1.3"/><circle cx="658.90" cy="296.26" r="1.3"/><circle cx="658.90" cy="298.24" r="1.3"/><circle cx="658.90" cy="300.22" r="1.3"/><circle cx="658.90" cy="302.20" r="1.3"/><circle cx="658.90" cy="304.17" r="1.3"/><circle cx="658.90" cy="306.15" r="1.3"/><circle cx="658.90" cy="308.13" r="1.3"/><circle cx="658.90" cy="310.11" r="1.3"/><circle cx="658.90" cy="312.09" r="1.3"/><circle cx="658.90" cy="314.07" r="1.3"/><circle cx="658.90" cy="316.05" r="1.3"/></g>
<circle cx="658.90" cy="230.55" r="1.45" fill="#111" stroke="none" stroke-width="0"/>
<circle cx="658.90" cy="238.15" r="1.45" fill="#111" stroke="none" stroke-width="0"/>
<circle cx="658.90" cy="242.90" r="1.45" fill="#111" stroke="none" stroke-width="0"/>
<line x1="659.40" y1="279.47" x2="659.40" y2="274.25" stroke="#2b2222" stroke-width="0.9"/>
<line x1="655.40" y1="279.47" x2="663.40" y2="279.47" stroke="#2b2222" stroke-width="0.9"/>
<line x1="655.40" y1="274.25" x2="663.40" y2="274.25" stroke="#2b2222" stroke-width="0.9"/>
<polyline points="631.80,248.50 631.80,222.60 659.20,222.60 659.20,224.60" fill="none" stroke="#2b2323" stroke-width="0.9" stroke-linejoin="miter"/>
<polygon points="643.40,213.70 643.96,215.13 645.49,215.22 644.30,216.19 644.69,217.68 643.40,216.85 642.11,217.68 642.50,216.19 641.31,215.22 642.84,215.13" fill="#111"/>
<polygon points="647.60,213.70 648.16,215.13 649.69,215.22 648.50,216.19 648.89,217.68 647.60,216.85 646.31,217.68 646.70,216.19 645.51,215.22 647.04,215.13" fill="#111"/>
<text x="205.0" y="330.1" font-size="7.2" font-weight="bold" text-anchor="end" fill="#111" stroke="#111" stroke-width="0.18" transform="rotate(-45 205.0 330.1)">Control</text>
<text x="232.2" y="330.1" font-size="7.2" font-weight="bold" text-anchor="end" fill="#111" stroke="#111" stroke-width="0.18" transform="rotate(-45 232.2 330.1)">Stressed</text>
<text x="272.2" y="330.1" font-size="7.2" font-weight="bold" text-anchor="end" fill="#111" stroke="#111" stroke-width="0.18" transform="rotate(-45 272.2 330.1)">Control</text>
<text x="299.2" y="330.1" font-size="7.2" font-weight="bold" text-anchor="end" fill="#111" stroke="#111" stroke-width="0.18" transform="rotate(-45 299.2 330.1)">Stressed</text>
<text x="369.8" y="330.1" font-size="7.2" font-weight="bold" text-anchor="end" fill="#111" stroke="#111" stroke-width="0.18" transform="rotate(-45 369.8 330.1)">Control</text>
<text x="397.5" y="330.1" font-size="7.2" font-weight="bold" text-anchor="end" fill="#111" stroke="#111" stroke-width="0.18" transform="rotate(-45 397.5 330.1)">Stressed</text>
<text x="633.6" y="330.1" font-size="7.2" font-weight="bold" text-anchor="end" fill="#111" stroke="#111" stroke-width="0.18" transform="rotate(-45 633.6 330.1)">Control</text>
<text x="661.4" y="330.1" font-size="7.2" font-weight="bold" text-anchor="end" fill="#111" stroke="#111" stroke-width="0.18" transform="rotate(-45 661.4 330.1)">Stressed</text>
<line x1="23.70" y1="469.30" x2="23.70" y2="383.90" stroke="#3b3230" stroke-width="1.0"/>
<line x1="20.10" y1="469.30" x2="23.70" y2="469.30" stroke="#3b3230" stroke-width="1.0"/>
<text x="19.299999999999997" y="471.568" font-size="6.3" font-weight="bold" text-anchor="end" fill="#222" stroke="#222" stroke-width="0.18">0</text>
<line x1="20.10" y1="448.07" x2="23.70" y2="448.07" stroke="#3b3230" stroke-width="1.0"/>
<text x="19.299999999999997" y="450.34299999999996" font-size="6.3" font-weight="bold" text-anchor="end" fill="#222" stroke="#222" stroke-width="0.18">20</text>
<line x1="20.10" y1="426.85" x2="23.70" y2="426.85" stroke="#3b3230" stroke-width="1.0"/>
<text x="19.299999999999997" y="429.118" font-size="6.3" font-weight="bold" text-anchor="end" fill="#222" stroke="#222" stroke-width="0.18">40</text>
<line x1="20.10" y1="405.62" x2="23.70" y2="405.62" stroke="#3b3230" stroke-width="1.0"/>
<text x="19.299999999999997" y="407.893" font-size="6.3" font-weight="bold" text-anchor="end" fill="#222" stroke="#222" stroke-width="0.18">60</text>
<line x1="20.10" y1="384.40" x2="23.70" y2="384.40" stroke="#3b3230" stroke-width="1.0"/>
<text x="19.299999999999997" y="386.66799999999995" font-size="6.3" font-weight="bold" text-anchor="end" fill="#222" stroke="#222" stroke-width="0.18">80</text>
<line x1="23.20" y1="469.30" x2="152.60" y2="469.30" stroke="#3b3230" stroke-width="1.0"/>
<line x1="37.30" y1="469.30" x2="37.30" y2="472.90" stroke="#3b3230" stroke-width="1.0"/>
<text x="37.3" y="479.9" font-size="6.2" font-weight="bold" text-anchor="middle" fill="#222" stroke="#222" stroke-width="0.18">Hab1</text>
<line x1="57.50" y1="469.30" x2="57.50" y2="472.90" stroke="#3b3230" stroke-width="1.0"/>
<text x="57.5" y="479.9" font-size="6.2" font-weight="bold" text-anchor="middle" fill="#222" stroke="#222" stroke-width="0.18">Hab2</text>
<line x1="77.70" y1="469.30" x2="77.70" y2="472.90" stroke="#3b3230" stroke-width="1.0"/>
<text x="77.69999999999999" y="479.9" font-size="6.2" font-weight="bold" text-anchor="middle" fill="#222" stroke="#222" stroke-width="0.18">1</text>
<line x1="97.90" y1="469.30" x2="97.90" y2="472.90" stroke="#3b3230" stroke-width="1.0"/>
<text x="97.89999999999999" y="479.9" font-size="6.2" font-weight="bold" text-anchor="middle" fill="#222" stroke="#222" stroke-width="0.18">2</text>
<line x1="118.10" y1="469.30" x2="118.10" y2="472.90" stroke="#3b3230" stroke-width="1.0"/>
<text x="118.1" y="479.9" font-size="6.2" font-weight="bold" text-anchor="middle" fill="#222" stroke="#222" stroke-width="0.18">3</text>
<line x1="138.30" y1="469.30" x2="138.30" y2="472.90" stroke="#3b3230" stroke-width="1.0"/>
<text x="138.3" y="479.9" font-size="6.2" font-weight="bold" text-anchor="middle" fill="#222" stroke="#222" stroke-width="0.18">4</text>
<text x="7.9" y="426.5" font-size="7.0" font-weight="bold" text-anchor="middle" fill="#111" stroke="#111" stroke-width="0.18" transform="rotate(-90 7.9 426.5)">Freezing (%)</text>
<polyline points="37.30,468.45 57.50,467.18 77.70,461.87 97.90,449.14 118.10,414.12 138.30,413.05" fill="none" stroke="#3b519e" stroke-width="1.0"/>
<line x1="37.30" y1="467.92" x2="37.30" y2="468.98" stroke="#3b519e" stroke-width="0.8"/>
<line x1="35.30" y1="467.92" x2="39.30" y2="467.92" stroke="#3b519e" stroke-width="0.8"/>
<line x1="35.30" y1="468.98" x2="39.30" y2="468.98" stroke="#3b519e" stroke-width="0.8"/>
<line x1="57.50" y1="466.43" x2="57.50" y2="467.92" stroke="#3b519e" stroke-width="0.8"/>
<line x1="55.50" y1="466.43" x2="59.50" y2="466.43" stroke="#3b519e" stroke-width="0.8"/>
<line x1="55.50" y1="467.92" x2="59.50" y2="467.92" stroke="#3b519e" stroke-width="0.8"/>
<line x1="77.70" y1="460.60" x2="77.70" y2="463.14" stroke="#3b519e" stroke-width="0.8"/>
<line x1="75.70" y1="460.60" x2="79.70" y2="460.60" stroke="#3b519e" stroke-width="0.8"/>
<line x1="75.70" y1="463.14" x2="79.70" y2="463.14" stroke="#3b519e" stroke-width="0.8"/>
<line x1="97.90" y1="445.95" x2="97.90" y2="452.32" stroke="#3b519e" stroke-width="0.8"/>
<line x1="95.90" y1="445.95" x2="99.90" y2="445.95" stroke="#3b519e" stroke-width="0.8"/>
<line x1="95.90" y1="452.32" x2="99.90" y2="452.32" stroke="#3b519e" stroke-width="0.8"/>
<line x1="118.10" y1="410.72" x2="118.10" y2="417.51" stroke="#3b519e" stroke-width="0.8"/>
<line x1="116.10" y1="410.72" x2="120.10" y2="410.72" stroke="#3b519e" stroke-width="0.8"/>
<line x1="116.10" y1="417.51" x2="120.10" y2="417.51" stroke="#3b519e" stroke-width="0.8"/>
<line x1="138.30" y1="409.66" x2="138.30" y2="416.45" stroke="#3b519e" stroke-width="0.8"/>
<line x1="136.30" y1="409.66" x2="140.30" y2="409.66" stroke="#3b519e" stroke-width="0.8"/>
<line x1="136.30" y1="416.45" x2="140.30" y2="416.45" stroke="#3b519e" stroke-width="0.8"/>
<circle cx="37.30" cy="468.45" r="1.9" fill="#3b519e" stroke="none" stroke-width="0"/>
<circle cx="57.50" cy="467.18" r="1.9" fill="#3b519e" stroke="none" stroke-width="0"/>
<circle cx="77.70" cy="461.87" r="1.9" fill="#3b519e" stroke="none" stroke-width="0"/>
<circle cx="97.90" cy="449.14" r="1.9" fill="#3b519e" stroke="none" stroke-width="0"/>
<circle cx="118.10" cy="414.12" r="1.9" fill="#3b519e" stroke="none" stroke-width="0"/>
<circle cx="138.30" cy="413.05" r="1.9" fill="#3b519e" stroke="none" stroke-width="0"/>
<polyline points="37.30,467.71 57.50,466.12 77.70,459.22 97.90,444.89 118.10,417.30 138.30,409.34" fill="none" stroke="#dc3325" stroke-width="1.0"/>
<line x1="37.30" y1="467.07" x2="37.30" y2="468.34" stroke="#dc3325" stroke-width="0.8"/>
<line x1="35.30" y1="467.07" x2="39.30" y2="467.07" stroke="#dc3325" stroke-width="0.8"/>
<line x1="35.30" y1="468.34" x2="39.30" y2="468.34" stroke="#dc3325" stroke-width="0.8"/>
<line x1="57.50" y1="465.37" x2="57.50" y2="466.86" stroke="#dc3325" stroke-width="0.8"/>
<line x1="55.50" y1="465.37" x2="59.50" y2="465.37" stroke="#dc3325" stroke-width="0.8"/>
<line x1="55.50" y1="466.86" x2="59.50" y2="466.86" stroke="#dc3325" stroke-width="0.8"/>
<line x1="77.70" y1="458.16" x2="77.70" y2="460.28" stroke="#dc3325" stroke-width="0.8"/>
<line x1="75.70" y1="458.16" x2="79.70" y2="458.16" stroke="#dc3325" stroke-width="0.8"/>
<line x1="75.70" y1="460.28" x2="79.70" y2="460.28" stroke="#dc3325" stroke-width="0.8"/>
<line x1="97.90" y1="441.50" x2="97.90" y2="448.29" stroke="#dc3325" stroke-width="0.8"/>
<line x1="95.90" y1="441.50" x2="99.90" y2="441.50" stroke="#dc3325" stroke-width="0.8"/>
<line x1="95.90" y1="448.29" x2="99.90" y2="448.29" stroke="#dc3325" stroke-width="0.8"/>
<line x1="118.10" y1="414.12" x2="118.10" y2="420.48" stroke="#dc3325" stroke-width="0.8"/>
<line x1="116.10" y1="414.12" x2="120.10" y2="414.12" stroke="#dc3325" stroke-width="0.8"/>
<line x1="116.10" y1="420.48" x2="120.10" y2="420.48" stroke="#dc3325" stroke-width="0.8"/>
<line x1="138.30" y1="404.56" x2="138.30" y2="414.11" stroke="#dc3325" stroke-width="0.8"/>
<line x1="136.30" y1="404.56" x2="140.30" y2="404.56" stroke="#dc3325" stroke-width="0.8"/>
<line x1="136.30" y1="414.11" x2="140.30" y2="414.11" stroke="#dc3325" stroke-width="0.8"/>
<circle cx="37.30" cy="467.71" r="1.9" fill="#dc3325" stroke="none" stroke-width="0"/>
<circle cx="57.50" cy="466.12" r="1.9" fill="#dc3325" stroke="none" stroke-width="0"/>
<circle cx="77.70" cy="459.22" r="1.9" fill="#dc3325" stroke="none" stroke-width="0"/>
<circle cx="97.90" cy="444.89" r="1.9" fill="#dc3325" stroke="none" stroke-width="0"/>
<circle cx="118.10" cy="417.30" r="1.9" fill="#dc3325" stroke="none" stroke-width="0"/>
<circle cx="138.30" cy="409.34" r="1.9" fill="#dc3325" stroke="none" stroke-width="0"/>
<line x1="39.80" y1="398.50" x2="49.00" y2="398.50" stroke="#3b519e" stroke-width="0.9"/>
<circle cx="44.40" cy="398.50" r="2.0" fill="#3b519e" stroke="none" stroke-width="0"/>
<text x="53.7" y="400.88" font-size="8.0" font-weight="normal" text-anchor="start" fill="#111" stroke="#111" stroke-width="0.18">Resilient</text>
<line x1="39.80" y1="409.40" x2="49.00" y2="409.40" stroke="#dc3325" stroke-width="0.9"/>
<circle cx="44.40" cy="409.40" r="2.0" fill="#dc3325" stroke="none" stroke-width="0"/>
<text x="53.7" y="411.78" font-size="8.0" font-weight="normal" text-anchor="start" fill="#111" stroke="#111" stroke-width="0.18">PTSD-like</text>
<line x1="190.60" y1="469.60" x2="190.60" y2="373.70" stroke="#3b3230" stroke-width="1.0"/>
<line x1="187.00" y1="469.60" x2="190.60" y2="469.60" stroke="#3b3230" stroke-width="1.0"/>
<text x="186.2" y="472.084" font-size="6.9" font-weight="bold" text-anchor="end" fill="#222" stroke="#222" stroke-width="0.18">0</text>
<line x1="187.00" y1="450.52" x2="190.60" y2="450.52" stroke="#3b3230" stroke-width="1.0"/>
<text x="186.2" y="453.004" font-size="6.9" font-weight="bold" text-anchor="end" fill="#222" stroke="#222" stroke-width="0.18">20</text>
<line x1="187.00" y1="431.44" x2="190.60" y2="431.44" stroke="#3b3230" stroke-width="1.0"/>
<text x="186.2" y="433.924" font-size="6.9" font-weight="bold" text-anchor="end" fill="#222" stroke="#222" stroke-width="0.18">40</text>
<line x1="187.00" y1="412.36" x2="190.60" y2="412.36" stroke="#3b3230" stroke-width="1.0"/>
<text x="186.2" y="414.844" font-size="6.9" font-weight="bold" text-anchor="end" fill="#222" stroke="#222" stroke-width="0.18">60</text>
<line x1="187.00" y1="393.28" x2="190.60" y2="393.28" stroke="#3b3230" stroke-width="1.0"/>
<text x="186.2" y="395.76399999999995" font-size="6.9" font-weight="bold" text-anchor="end" fill="#222" stroke="#222" stroke-width="0.18">80</text>
<line x1="187.00" y1="374.20" x2="190.60" y2="374.20" stroke="#3b3230" stroke-width="1.0"/>
<text x="186.2" y="376.68399999999997" font-size="6.9" font-weight="bold" text-anchor="end" fill="#222" stroke="#222" stroke-width="0.18">100</text>
<text x="169.3" y="421.5" font-size="7.7" font-weight="bold" text-anchor="middle" fill="#111" stroke="#111" stroke-width="0.18" transform="rotate(-90 169.3 421.5)">Freezing (%)</text>
<rect x="200.80" y="390.23" width="16.70" height="79.37" fill="#3b519e" stroke="#2b2222" stroke-width="1.4"/>
<rect x="228.30" y="388.13" width="16.80" height="81.47" fill="#dc3325" stroke="#2b2222" stroke-width="1.4"/>
<line x1="190.10" y1="469.60" x2="254.60" y2="469.60" stroke="#3b3230" stroke-width="1.0"/>
<line x1="209.20" y1="469.60" x2="209.20" y2="473.20" stroke="#3b3230" stroke-width="1.0"/>
<line x1="236.70" y1="469.60" x2="236.70" y2="473.20" stroke="#3b3230" stroke-width="1.0"/>
<circle cx="209.20" cy="426.19" r="1.45" fill="#fff" stroke="#1a1a1a" stroke-width="0.8"/>
<circle cx="209.20" cy="400.91" r="1.45" fill="#fff" stroke="#1a1a1a" stroke-width="0.8"/>
<circle cx="209.20" cy="398.53" r="1.45" fill="#fff" stroke="#1a1a1a" stroke-width="0.8"/>
<circle cx="209.20" cy="396.14" r="1.45" fill="#fff" stroke="#1a1a1a" stroke-width="0.8"/>
<circle cx="209.20" cy="393.76" r="1.45" fill="#fff" stroke="#1a1a1a" stroke-width="0.8"/>
<circle cx="209.20" cy="391.37" r="1.45" fill="#fff" stroke="#1a1a1a" stroke-width="0.8"/>
<circle cx="209.20" cy="388.99" r="1.45" fill="#fff" stroke="#1a1a1a" stroke-width="0.8"/>
<circle cx="209.20" cy="386.60" r="1.45" fill="#fff" stroke="#1a1a1a" stroke-width="0.8"/>
<circle cx="209.20" cy="384.22" r="1.45" fill="#fff" stroke="#1a1a1a" stroke-width="0.8"/>
<circle cx="209.20" cy="381.83" r="1.45" fill="#fff" stroke="#1a1a1a" stroke-width="0.8"/>
<circle cx="209.20" cy="379.45" r="1.45" fill="#fff" stroke="#1a1a1a" stroke-width="0.8"/>
<circle cx="209.20" cy="377.06" r="1.45" fill="#fff" stroke="#1a1a1a" stroke-width="0.8"/>
<line x1="209.20" y1="392.80" x2="209.20" y2="387.56" stroke="#2b2222" stroke-width="0.9"/>
<line x1="205.00" y1="392.80" x2="213.40" y2="392.80" stroke="#2b2222" stroke-width="0.9"/>
<line x1="205.00" y1="387.56" x2="213.40" y2="387.56" stroke="#2b2222" stroke-width="0.9"/>
<line x1="236.60" y1="380.40" x2="236.60" y2="390.89" stroke="#141414" stroke-width="2.0" stroke-linecap="round"/>
<g fill="#141414"><circle cx="236.60" cy="380.40" r="1.3"/><circle cx="236.60" cy="382.50" r="1.3"/><circle cx="236.60" cy="384.60" r="1.3"/><circle cx="236.60" cy="386.70" r="1.3"/><circle cx="236.60" cy="388.80" r="1.3"/><circle cx="236.60" cy="390.89" r="1.3"/></g>
<circle cx="236.60" cy="412.36" r="1.45" fill="#111" stroke="none" stroke-width="0"/>
<circle cx="236.60" cy="398.05" r="1.45" fill="#111" stroke="none" stroke-width="0"/>
<line x1="236.70" y1="389.94" x2="236.70" y2="386.41" stroke="#2b2222" stroke-width="0.9"/>
<line x1="232.50" y1="389.94" x2="240.90" y2="389.94" stroke="#2b2222" stroke-width="0.9"/>
<line x1="232.50" y1="386.41" x2="240.90" y2="386.41" stroke="#2b2222" stroke-width="0.9"/>
<rect x="268.10" y="444.80" width="16.20" height="24.80" fill="#3b519e" stroke="#2b2222" stroke-width="1.4"/>
<rect x="295.10" y="403.96" width="16.10" height="65.64" fill="#dc3325" stroke="#2b2222" stroke-width="1.4"/>
<line x1="257.50" y1="469.60" x2="321.30" y2="469.60" stroke="#3b3230" stroke-width="1.0"/>
<line x1="276.20" y1="469.60" x2="276.20" y2="473.20" stroke="#3b3230" stroke-width="1.0"/>
<line x1="303.10" y1="469.60" x2="303.10" y2="473.20" stroke="#3b3230" stroke-width="1.0"/>
<circle cx="276.20" cy="422.85" r="1.45" fill="#fff" stroke="#1a1a1a" stroke-width="0.8"/>
<circle cx="276.20" cy="428.58" r="1.45" fill="#fff" stroke="#1a1a1a" stroke-width="0.8"/>
<circle cx="276.20" cy="431.44" r="1.45" fill="#fff" stroke="#1a1a1a" stroke-width="0.8"/>
<circle cx="276.20" cy="434.30" r="1.45" fill="#fff" stroke="#1a1a1a" stroke-width="0.8"/>
<circle cx="276.20" cy="437.16" r="1.45" fill="#fff" stroke="#1a1a1a" stroke-width="0.8"/>
<circle cx="276.20" cy="440.03" r="1.45" fill="#fff" stroke="#1a1a1a" stroke-width="0.8"/>
<circle cx="276.20" cy="442.41" r="1.45" fill="#fff" stroke="#1a1a1a" stroke-width="0.8"/>
<circle cx="276.20" cy="445.27" r="1.45" fill="#fff" stroke="#1a1a1a" stroke-width="0.8"/>
<circle cx="276.20" cy="448.61" r="1.45" fill="#fff" stroke="#1a1a1a" stroke-width="0.8"/>
<circle cx="276.20" cy="451.95" r="1.45" fill="#fff" stroke="#1a1a1a" stroke-width="0.8"/>
<circle cx="276.20" cy="459.11" r="1.45" fill="#fff" stroke="#1a1a1a" stroke-width="0.8"/>
<circle cx="276.20" cy="461.97" r="1.45" fill="#fff" stroke="#1a1a1a" stroke-width="0.8"/>
<circle cx="276.20" cy="464.83" r="1.45" fill="#fff" stroke="#1a1a1a" stroke-width="0.8"/>
<circle cx="276.20" cy="467.69" r="1.45" fill="#fff" stroke="#1a1a1a" stroke-width="0.8"/>
<line x1="276.20" y1="447.47" x2="276.20" y2="442.12" stroke="#2b2222" stroke-width="0.9"/>
<line x1="272.00" y1="447.47" x2="280.40" y2="447.47" stroke="#2b2222" stroke-width="0.9"/>
<line x1="272.00" y1="442.12" x2="280.40" y2="442.12" stroke="#2b2222" stroke-width="0.9"/>
<circle cx="303.40" cy="381.36" r="1.45" fill="#111" stroke="none" stroke-width="0"/>
<circle cx="303.40" cy="384.69" r="1.45" fill="#111" stroke="none" stroke-width="0"/>
<circle cx="303.40" cy="387.56" r="1.45" fill="#111" stroke="none" stroke-width="0"/>
<circle cx="303.40" cy="392.33" r="1.45" fill="#111" stroke="none" stroke-width="0"/>
<circle cx="303.40" cy="396.62" r="1.45" fill="#111" stroke="none" stroke-width="0"/>
<circle cx="303.40" cy="400.91" r="1.45" fill="#111" stroke="none" stroke-width="0"/>
<circle cx="303.40" cy="403.30" r="1.45" fill="#111" stroke="none" stroke-width="0"/>
<circle cx="303.40" cy="405.68" r="1.45" fill="#111" stroke="none" stroke-width="0"/>
<circle cx="303.40" cy="409.02" r="1.45" fill="#111" stroke="none" stroke-width="0"/>
<circle cx="303.40" cy="411.88" r="1.45" fill="#111" stroke="none" stroke-width="0"/>
<circle cx="303.40" cy="414.75" r="1.45" fill="#111" stroke="none" stroke-width="0"/>
<circle cx="303.40" cy="417.61" r="1.45" fill="#111" stroke="none" stroke-width="0"/>
<circle cx="303.40" cy="420.47" r="1.45" fill="#111" stroke="none" stroke-width="0"/>
<circle cx="303.40" cy="430.49" r="1.45" fill="#111" stroke="none" stroke-width="0"/>
<line x1="303.10" y1="406.64" x2="303.10" y2="401.29" stroke="#2b2222" stroke-width="0.9"/>
<line x1="298.90" y1="406.64" x2="307.30" y2="406.64" stroke="#2b2222" stroke-width="0.9"/>
<line x1="298.90" y1="401.29" x2="307.30" y2="401.29" stroke="#2b2222" stroke-width="0.9"/>
<polyline points="276.30,419.50 276.30,373.50 303.40,373.50 303.40,375.60" fill="none" stroke="#2b2323" stroke-width="0.9" stroke-linejoin="miter"/>
<polygon points="283.55,364.70 284.11,366.13 285.64,366.22 284.45,367.19 284.84,368.68 283.55,367.85 282.26,368.68 282.65,367.19 281.46,366.22 282.99,366.13" fill="#111"/>
<polygon points="287.75,364.70 288.31,366.13 289.84,366.22 288.65,367.19 289.04,368.68 287.75,367.85 286.46,368.68 286.85,367.19 285.66,366.22 287.19,366.13" fill="#111"/>
<polygon points="291.95,364.70 292.51,366.13 294.04,366.22 292.85,367.19 293.24,368.68 291.95,367.85 290.66,368.68 291.05,367.19 289.86,366.22 291.39,366.13" fill="#111"/>
<polygon points="296.15,364.70 296.71,366.13 298.24,366.22 297.05,367.19 297.44,368.68 296.15,367.85 294.86,368.68 295.25,367.19 294.06,366.22 295.59,366.13" fill="#111"/>
<line x1="349.10" y1="468.40" x2="349.10" y2="370.50" stroke="#3b3230" stroke-width="1.0"/>
<line x1="345.50" y1="468.40" x2="349.10" y2="468.40" stroke="#3b3230" stroke-width="1.0"/>
<text x="344.7" y="470.88399999999996" font-size="6.9" font-weight="bold" text-anchor="end" fill="#222" stroke="#222" stroke-width="0.18">0.0</text>
<line x1="345.50" y1="435.93" x2="349.10" y2="435.93" stroke="#3b3230" stroke-width="1.0"/>
<text x="344.7" y="438.4173333333333" font-size="6.9" font-weight="bold" text-anchor="end" fill="#222" stroke="#222" stroke-width="0.18">0.5</text>
<line x1="345.50" y1="403.47" x2="349.10" y2="403.47" stroke="#3b3230" stroke-width="1.0"/>
<text x="344.7" y="405.9506666666666" font-size="6.9" font-weight="bold" text-anchor="end" fill="#222" stroke="#222" stroke-width="0.18">1.0</text>
<line x1="345.50" y1="371.00" x2="349.10" y2="371.00" stroke="#3b3230" stroke-width="1.0"/>
<text x="344.7" y="373.484" font-size="6.9" font-weight="bold" text-anchor="end" fill="#222" stroke="#222" stroke-width="0.18">1.5</text>
<text x="328.6" y="419.3" font-size="7.85" font-weight="bold" text-anchor="middle" fill="#111" stroke="#111" stroke-width="0.18" transform="rotate(-90 328.6 419.3)">Generalization index</text>
<rect x="359.30" y="447.62" width="17.10" height="20.78" fill="#3b519e" stroke="#2b2222" stroke-width="1.4"/>
<rect x="387.10" y="416.45" width="17.10" height="51.95" fill="#dc3325" stroke="#2b2222" stroke-width="1.4"/>
<line x1="348.60" y1="468.40" x2="414.90" y2="468.40" stroke="#3b3230" stroke-width="1.0"/>
<line x1="367.30" y1="468.40" x2="367.30" y2="472.00" stroke="#3b3230" stroke-width="1.0"/>
<line x1="395.50" y1="468.40" x2="395.50" y2="472.00" stroke="#3b3230" stroke-width="1.0"/>
<circle cx="367.30" cy="467.75" r="1.45" fill="#fff" stroke="#1a1a1a" stroke-width="0.8"/>
<circle cx="367.30" cy="464.50" r="1.45" fill="#fff" stroke="#1a1a1a" stroke-width="0.8"/>
<circle cx="367.30" cy="461.26" r="1.45" fill="#fff" stroke="#1a1a1a" stroke-width="0.8"/>
<circle cx="367.30" cy="458.01" r="1.45" fill="#fff" stroke="#1a1a1a" stroke-width="0.8"/>
<circle cx="367.30" cy="454.76" r="1.45" fill="#fff" stroke="#1a1a1a" stroke-width="0.8"/>
<circle cx="367.30" cy="451.52" r="1.45" fill="#fff" stroke="#1a1a1a" stroke-width="0.8"/>
<circle cx="367.30" cy="448.27" r="1.45" fill="#fff" stroke="#1a1a1a" stroke-width="0.8"/>
<circle cx="367.30" cy="445.02" r="1.45" fill="#fff" stroke="#1a1a1a" stroke-width="0.8"/>
<circle cx="367.30" cy="441.78" r="1.45" fill="#fff" stroke="#1a1a1a" stroke-width="0.8"/>
<circle cx="367.30" cy="438.53" r="1.45" fill="#fff" stroke="#1a1a1a" stroke-width="0.8"/>
<circle cx="367.30" cy="435.93" r="1.45" fill="#fff" stroke="#1a1a1a" stroke-width="0.8"/>
<circle cx="367.30" cy="433.34" r="1.45" fill="#fff" stroke="#1a1a1a" stroke-width="0.8"/>
<circle cx="367.30" cy="430.74" r="1.45" fill="#fff" stroke="#1a1a1a" stroke-width="0.8"/>
<line x1="367.80" y1="450.22" x2="367.80" y2="445.02" stroke="#2b2222" stroke-width="0.9"/>
<line x1="363.60" y1="450.22" x2="372.00" y2="450.22" stroke="#2b2222" stroke-width="0.9"/>
<line x1="363.60" y1="445.02" x2="372.00" y2="445.02" stroke="#2b2222" stroke-width="0.9"/>
<line x1="395.50" y1="402.17" x2="395.50" y2="424.89" stroke="#141414" stroke-width="2.0" stroke-linecap="round"/>
<g fill="#141414"><circle cx="395.50" cy="402.17" r="1.3"/><circle cx="395.50" cy="404.23" r="1.3"/><circle cx="395.50" cy="406.30" r="1.3"/><circle cx="395.50" cy="408.37" r="1.3"/><circle cx="395.50" cy="410.43" r="1.3"/><circle cx="395.50" cy="412.50" r="1.3"/><circle cx="395.50" cy="414.56" r="1.3"/><circle cx="395.50" cy="416.63" r="1.3"/><circle cx="395.50" cy="418.70" r="1.3"/><circle cx="395.50" cy="420.76" r="1.3"/><circle cx="395.50" cy="422.83" r="1.3"/><circle cx="395.50" cy="424.89" r="1.3"/></g>
<circle cx="395.50" cy="430.09" r="1.45" fill="#111" stroke="none" stroke-width="0"/>
<line x1="395.60" y1="418.40" x2="395.60" y2="414.18" stroke="#2b2222" stroke-width="0.9"/>
<line x1="391.40" y1="418.40" x2="399.80" y2="418.40" stroke="#2b2222" stroke-width="0.9"/>
<line x1="391.40" y1="414.18" x2="399.80" y2="414.18" stroke="#2b2222" stroke-width="0.9"/>
<polyline points="367.60,423.70 367.60,391.20 395.40,391.20 395.40,397.90" fill="none" stroke="#2b2323" stroke-width="0.9" stroke-linejoin="miter"/>
<polygon points="375.20,382.80 375.76,384.23 377.29,384.32 376.10,385.29 376.49,386.78 375.20,385.95 373.91,386.78 374.30,385.29 373.11,384.32 374.64,384.23" fill="#111"/>
<polygon points="379.40,382.80 379.96,384.23 381.49,384.32 380.30,385.29 380.69,386.78 379.40,385.95 378.11,386.78 378.50,385.29 377.31,384.32 378.84,384.23" fill="#111"/>
<polygon points="383.60,382.80 384.16,384.23 385.69,384.32 384.50,385.29 384.89,386.78 383.60,385.95 382.31,386.78 382.70,385.29 381.51,384.32 383.04,384.23" fill="#111"/>
<polygon points="387.80,382.80 388.36,384.23 389.89,384.32 388.70,385.29 389.09,386.78 387.80,385.95 386.51,386.78 386.90,385.29 385.71,384.32 387.24,384.23" fill="#111"/>
<text x="211.5" y="480.2" font-size="7.2" font-weight="bold" text-anchor="end" fill="#111" stroke="#111" stroke-width="0.18" transform="rotate(-45 211.5 480.2)">Resilient</text>
<text x="239.0" y="480.2" font-size="7.2" font-weight="bold" text-anchor="end" fill="#111" stroke="#111" stroke-width="0.18" transform="rotate(-45 239.0 480.2)">PTSD-like</text>
<text x="278.5" y="480.2" font-size="7.2" font-weight="bold" text-anchor="end" fill="#111" stroke="#111" stroke-width="0.18" transform="rotate(-45 278.5 480.2)">Resilient</text>
<text x="305.40000000000003" y="480.2" font-size="7.2" font-weight="bold" text-anchor="end" fill="#111" stroke="#111" stroke-width="0.18" transform="rotate(-45 305.40000000000003 480.2)">PTSD-like</text>
<text x="370.1" y="480.2" font-size="7.2" font-weight="bold" text-anchor="end" fill="#111" stroke="#111" stroke-width="0.18" transform="rotate(-45 370.1 480.2)">Resilient</text>
<text x="397.90000000000003" y="480.2" font-size="7.2" font-weight="bold" text-anchor="end" fill="#111" stroke="#111" stroke-width="0.18" transform="rotate(-45 397.90000000000003 480.2)">PTSD-like</text>
<text x="640.6999999999999" y="480.2" font-size="7.2" font-weight="bold" text-anchor="end" fill="#111" stroke="#111" stroke-width="0.18" transform="rotate(-45 640.6999999999999 480.2)">Resilient</text>
<text x="668.0999999999999" y="480.2" font-size="7.2" font-weight="bold" text-anchor="end" fill="#111" stroke="#111" stroke-width="0.18" transform="rotate(-45 668.0999999999999 480.2)">PTSD-like</text>
<line x1="438.50" y1="468.50" x2="438.50" y2="373.90" stroke="#3b3230" stroke-width="1.0"/>
<line x1="434.90" y1="468.50" x2="438.50" y2="468.50" stroke="#3b3230" stroke-width="1.0"/>
<text x="434.09999999999997" y="470.948" font-size="6.8" font-weight="bold" text-anchor="end" fill="#222" stroke="#222" stroke-width="0.18">0</text>
<line x1="434.90" y1="449.68" x2="438.50" y2="449.68" stroke="#3b3230" stroke-width="1.0"/>
<text x="434.09999999999997" y="452.128" font-size="6.8" font-weight="bold" text-anchor="end" fill="#222" stroke="#222" stroke-width="0.18">20</text>
<line x1="434.90" y1="430.86" x2="438.50" y2="430.86" stroke="#3b3230" stroke-width="1.0"/>
<text x="434.09999999999997" y="433.308" font-size="6.8" font-weight="bold" text-anchor="end" fill="#222" stroke="#222" stroke-width="0.18">40</text>
<line x1="434.90" y1="412.04" x2="438.50" y2="412.04" stroke="#3b3230" stroke-width="1.0"/>
<text x="434.09999999999997" y="414.48799999999994" font-size="6.8" font-weight="bold" text-anchor="end" fill="#222" stroke="#222" stroke-width="0.18">60</text>
<line x1="434.90" y1="393.22" x2="438.50" y2="393.22" stroke="#3b3230" stroke-width="1.0"/>
<text x="434.09999999999997" y="395.66799999999995" font-size="6.8" font-weight="bold" text-anchor="end" fill="#222" stroke="#222" stroke-width="0.18">80</text>
<line x1="434.90" y1="374.40" x2="438.50" y2="374.40" stroke="#3b3230" stroke-width="1.0"/>
<text x="434.09999999999997" y="376.84799999999996" font-size="6.8" font-weight="bold" text-anchor="end" fill="#222" stroke="#222" stroke-width="0.18">100</text>
<line x1="438.00" y1="468.50" x2="571.40" y2="468.50" stroke="#3b3230" stroke-width="1.0"/>
<line x1="448.00" y1="468.50" x2="448.00" y2="472.10" stroke="#3b3230" stroke-width="1.0"/>
<text x="448.0" y="480.2" font-size="6.4" font-weight="bold" text-anchor="middle" fill="#222" stroke="#222" stroke-width="0.18">1</text>
<line x1="461.71" y1="468.50" x2="461.71" y2="472.10" stroke="#3b3230" stroke-width="1.0"/>
<text x="461.71" y="480.2" font-size="6.4" font-weight="bold" text-anchor="middle" fill="#222" stroke="#222" stroke-width="0.18">2</text>
<line x1="475.42" y1="468.50" x2="475.42" y2="472.10" stroke="#3b3230" stroke-width="1.0"/>
<text x="475.42" y="480.2" font-size="6.4" font-weight="bold" text-anchor="middle" fill="#222" stroke="#222" stroke-width="0.18">3</text>
<line x1="489.13" y1="468.50" x2="489.13" y2="472.10" stroke="#3b3230" stroke-width="1.0"/>
<text x="489.13" y="480.2" font-size="6.4" font-weight="bold" text-anchor="middle" fill="#222" stroke="#222" stroke-width="0.18">4</text>
<line x1="502.84" y1="468.50" x2="502.84" y2="472.10" stroke="#3b3230" stroke-width="1.0"/>
<text x="502.84000000000003" y="480.2" font-size="6.4" font-weight="bold" text-anchor="middle" fill="#222" stroke="#222" stroke-width="0.18">5</text>
<line x1="516.55" y1="468.50" x2="516.55" y2="472.10" stroke="#3b3230" stroke-width="1.0"/>
<text x="516.55" y="480.2" font-size="6.4" font-weight="bold" text-anchor="middle" fill="#222" stroke="#222" stroke-width="0.18">6</text>
<line x1="530.26" y1="468.50" x2="530.26" y2="472.10" stroke="#3b3230" stroke-width="1.0"/>
<text x="530.26" y="480.2" font-size="6.4" font-weight="bold" text-anchor="middle" fill="#222" stroke="#222" stroke-width="0.18">7</text>
<line x1="543.97" y1="468.50" x2="543.97" y2="472.10" stroke="#3b3230" stroke-width="1.0"/>
<text x="543.97" y="480.2" font-size="6.4" font-weight="bold" text-anchor="middle" fill="#222" stroke="#222" stroke-width="0.18">8</text>
<line x1="557.68" y1="468.50" x2="557.68" y2="472.10" stroke="#3b3230" stroke-width="1.0"/>
<text x="557.6800000000001" y="480.2" font-size="6.4" font-weight="bold" text-anchor="middle" fill="#222" stroke="#222" stroke-width="0.18">9</text>
<line x1="571.39" y1="468.50" x2="571.39" y2="472.10" stroke="#3b3230" stroke-width="1.0"/>
<text x="571.39" y="480.2" font-size="6.4" font-weight="bold" text-anchor="middle" fill="#222" stroke="#222" stroke-width="0.18">10</text>
<text x="509.3" y="491.8" font-size="7.75" font-weight="bold" text-anchor="middle" fill="#111" stroke="#111" stroke-width="0.18">Block of 3 trials</text>
<text x="420.2" y="420.7" font-size="7.65" font-weight="bold" text-anchor="middle" fill="#111" stroke="#111" stroke-width="0.18" transform="rotate(-90 420.2 420.7)">Freezing (%)</text>
<polyline points="448.00,413.92 461.71,437.45 475.42,445.92 489.13,453.91 502.84,456.74 516.55,461.91 530.26,461.44 543.97,461.91 557.68,463.80 571.39,460.97" fill="none" stroke="#3b519e" stroke-width="1.0"/>
<line x1="448.00" y1="411.10" x2="448.00" y2="416.74" stroke="#3b519e" stroke-width="0.8"/>
<line x1="446.00" y1="411.10" x2="450.00" y2="411.10" stroke="#3b519e" stroke-width="0.8"/>
<line x1="446.00" y1="416.74" x2="450.00" y2="416.74" stroke="#3b519e" stroke-width="0.8"/>
<line x1="461.71" y1="434.62" x2="461.71" y2="440.27" stroke="#3b519e" stroke-width="0.8"/>
<line x1="459.71" y1="434.62" x2="463.71" y2="434.62" stroke="#3b519e" stroke-width="0.8"/>
<line x1="459.71" y1="440.27" x2="463.71" y2="440.27" stroke="#3b519e" stroke-width="0.8"/>
<line x1="475.42" y1="443.09" x2="475.42" y2="448.74" stroke="#3b519e" stroke-width="0.8"/>
<line x1="473.42" y1="443.09" x2="477.42" y2="443.09" stroke="#3b519e" stroke-width="0.8"/>
<line x1="473.42" y1="448.74" x2="477.42" y2="448.74" stroke="#3b519e" stroke-width="0.8"/>
<line x1="489.13" y1="451.09" x2="489.13" y2="456.74" stroke="#3b519e" stroke-width="0.8"/>
<line x1="487.13" y1="451.09" x2="491.13" y2="451.09" stroke="#3b519e" stroke-width="0.8"/>
<line x1="487.13" y1="456.74" x2="491.13" y2="456.74" stroke="#3b519e" stroke-width="0.8"/>
<line x1="502.84" y1="453.91" x2="502.84" y2="459.56" stroke="#3b519e" stroke-width="0.8"/>
<line x1="500.84" y1="453.91" x2="504.84" y2="453.91" stroke="#3b519e" stroke-width="0.8"/>
<line x1="500.84" y1="459.56" x2="504.84" y2="459.56" stroke="#3b519e" stroke-width="0.8"/>
<line x1="516.55" y1="460.03" x2="516.55" y2="463.80" stroke="#3b519e" stroke-width="0.8"/>
<line x1="514.55" y1="460.03" x2="518.55" y2="460.03" stroke="#3b519e" stroke-width="0.8"/>
<line x1="514.55" y1="463.80" x2="518.55" y2="463.80" stroke="#3b519e" stroke-width="0.8"/>
<line x1="530.26" y1="459.09" x2="530.26" y2="463.80" stroke="#3b519e" stroke-width="0.8"/>
<line x1="528.26" y1="459.09" x2="532.26" y2="459.09" stroke="#3b519e" stroke-width="0.8"/>
<line x1="528.26" y1="463.80" x2="532.26" y2="463.80" stroke="#3b519e" stroke-width="0.8"/>
<line x1="543.97" y1="460.03" x2="543.97" y2="463.80" stroke="#3b519e" stroke-width="0.8"/>
<line x1="541.97" y1="460.03" x2="545.97" y2="460.03" stroke="#3b519e" stroke-width="0.8"/>
<line x1="541.97" y1="463.80" x2="545.97" y2="463.80" stroke="#3b519e" stroke-width="0.8"/>
<line x1="557.68" y1="461.91" x2="557.68" y2="465.68" stroke="#3b519e" stroke-width="0.8"/>
<line x1="555.68" y1="461.91" x2="559.68" y2="461.91" stroke="#3b519e" stroke-width="0.8"/>
<line x1="555.68" y1="465.68" x2="559.68" y2="465.68" stroke="#3b519e" stroke-width="0.8"/>
<line x1="571.39" y1="459.56" x2="571.39" y2="462.38" stroke="#3b519e" stroke-width="0.8"/>
<line x1="569.39" y1="459.56" x2="573.39" y2="459.56" stroke="#3b519e" stroke-width="0.8"/>
<line x1="569.39" y1="462.38" x2="573.39" y2="462.38" stroke="#3b519e" stroke-width="0.8"/>
<circle cx="448.00" cy="413.92" r="1.9" fill="#3b519e" stroke="none" stroke-width="0"/>
<circle cx="461.71" cy="437.45" r="1.9" fill="#3b519e" stroke="none" stroke-width="0"/>
<circle cx="475.42" cy="445.92" r="1.9" fill="#3b519e" stroke="none" stroke-width="0"/>
<circle cx="489.13" cy="453.91" r="1.9" fill="#3b519e" stroke="none" stroke-width="0"/>
<circle cx="502.84" cy="456.74" r="1.9" fill="#3b519e" stroke="none" stroke-width="0"/>
<circle cx="516.55" cy="461.91" r="1.9" fill="#3b519e" stroke="none" stroke-width="0"/>
<circle cx="530.26" cy="461.44" r="1.9" fill="#3b519e" stroke="none" stroke-width="0"/>
<circle cx="543.97" cy="461.91" r="1.9" fill="#3b519e" stroke="none" stroke-width="0"/>
<circle cx="557.68" cy="463.80" r="1.9" fill="#3b519e" stroke="none" stroke-width="0"/>
<circle cx="571.39" cy="460.97" r="1.9" fill="#3b519e" stroke="none" stroke-width="0"/>
<polyline points="448.00,399.34 461.71,414.86 475.42,435.56 489.13,445.92 502.84,446.86 516.55,452.97 530.26,447.80 543.97,447.33 557.68,448.27 571.39,452.50" fill="none" stroke="#dc3325" stroke-width="1.0"/>
<line x1="448.00" y1="396.51" x2="448.00" y2="402.16" stroke="#dc3325" stroke-width="0.8"/>
<line x1="446.00" y1="396.51" x2="450.00" y2="396.51" stroke="#dc3325" stroke-width="0.8"/>
<line x1="446.00" y1="402.16" x2="450.00" y2="402.16" stroke="#dc3325" stroke-width="0.8"/>
<line x1="461.71" y1="410.63" x2="461.71" y2="419.10" stroke="#dc3325" stroke-width="0.8"/>
<line x1="459.71" y1="410.63" x2="463.71" y2="410.63" stroke="#dc3325" stroke-width="0.8"/>
<line x1="459.71" y1="419.10" x2="463.71" y2="419.10" stroke="#dc3325" stroke-width="0.8"/>
<line x1="475.42" y1="430.86" x2="475.42" y2="440.27" stroke="#dc3325" stroke-width="0.8"/>
<line x1="473.42" y1="430.86" x2="477.42" y2="430.86" stroke="#dc3325" stroke-width="0.8"/>
<line x1="473.42" y1="440.27" x2="477.42" y2="440.27" stroke="#dc3325" stroke-width="0.8"/>
<line x1="489.13" y1="442.15" x2="489.13" y2="449.68" stroke="#dc3325" stroke-width="0.8"/>
<line x1="487.13" y1="442.15" x2="491.13" y2="442.15" stroke="#dc3325" stroke-width="0.8"/>
<line x1="487.13" y1="449.68" x2="491.13" y2="449.68" stroke="#dc3325" stroke-width="0.8"/>
<line x1="502.84" y1="442.62" x2="502.84" y2="451.09" stroke="#dc3325" stroke-width="0.8"/>
<line x1="500.84" y1="442.62" x2="504.84" y2="442.62" stroke="#dc3325" stroke-width="0.8"/>
<line x1="500.84" y1="451.09" x2="504.84" y2="451.09" stroke="#dc3325" stroke-width="0.8"/>
<line x1="516.55" y1="448.74" x2="516.55" y2="457.21" stroke="#dc3325" stroke-width="0.8"/>
<line x1="514.55" y1="448.74" x2="518.55" y2="448.74" stroke="#dc3325" stroke-width="0.8"/>
<line x1="514.55" y1="457.21" x2="518.55" y2="457.21" stroke="#dc3325" stroke-width="0.8"/>
<line x1="530.26" y1="443.09" x2="530.26" y2="452.50" stroke="#dc3325" stroke-width="0.8"/>
<line x1="528.26" y1="443.09" x2="532.26" y2="443.09" stroke="#dc3325" stroke-width="0.8"/>
<line x1="528.26" y1="452.50" x2="532.26" y2="452.50" stroke="#dc3325" stroke-width="0.8"/>
<line x1="543.97" y1="444.03" x2="543.97" y2="450.62" stroke="#dc3325" stroke-width="0.8"/>
<line x1="541.97" y1="444.03" x2="545.97" y2="444.03" stroke="#dc3325" stroke-width="0.8"/>
<line x1="541.97" y1="450.62" x2="545.97" y2="450.62" stroke="#dc3325" stroke-width="0.8"/>
<line x1="557.68" y1="444.03" x2="557.68" y2="452.50" stroke="#dc3325" stroke-width="0.8"/>
<line x1="555.68" y1="444.03" x2="559.68" y2="444.03" stroke="#dc3325" stroke-width="0.8"/>
<line x1="555.68" y1="452.50" x2="559.68" y2="452.50" stroke="#dc3325" stroke-width="0.8"/>
<line x1="571.39" y1="448.74" x2="571.39" y2="456.27" stroke="#dc3325" stroke-width="0.8"/>
<line x1="569.39" y1="448.74" x2="573.39" y2="448.74" stroke="#dc3325" stroke-width="0.8"/>
<line x1="569.39" y1="456.27" x2="573.39" y2="456.27" stroke="#dc3325" stroke-width="0.8"/>
<circle cx="448.00" cy="399.34" r="1.9" fill="#dc3325" stroke="none" stroke-width="0"/>
<circle cx="461.71" cy="414.86" r="1.9" fill="#dc3325" stroke="none" stroke-width="0"/>
<circle cx="475.42" cy="435.56" r="1.9" fill="#dc3325" stroke="none" stroke-width="0"/>
<circle cx="489.13" cy="445.92" r="1.9" fill="#dc3325" stroke="none" stroke-width="0"/>
<circle cx="502.84" cy="446.86" r="1.9" fill="#dc3325" stroke="none" stroke-width="0"/>
<circle cx="516.55" cy="452.97" r="1.9" fill="#dc3325" stroke="none" stroke-width="0"/>
<circle cx="530.26" cy="447.80" r="1.9" fill="#dc3325" stroke="none" stroke-width="0"/>
<circle cx="543.97" cy="447.33" r="1.9" fill="#dc3325" stroke="none" stroke-width="0"/>
<circle cx="557.68" cy="448.27" r="1.9" fill="#dc3325" stroke="none" stroke-width="0"/>
<circle cx="571.39" cy="452.50" r="1.9" fill="#dc3325" stroke="none" stroke-width="0"/>
<line x1="505.00" y1="389.60" x2="516.00" y2="389.60" stroke="#3b519e" stroke-width="0.9"/>
<circle cx="510.50" cy="389.60" r="2.0" fill="#3b519e" stroke="none" stroke-width="0"/>
<text x="520.1" y="391.98" font-size="8.0" font-weight="normal" text-anchor="start" fill="#111" stroke="#111" stroke-width="0.18">Resilient</text>
<line x1="505.00" y1="402.30" x2="516.00" y2="402.30" stroke="#dc3325" stroke-width="0.9"/>
<circle cx="510.50" cy="402.30" r="2.0" fill="#dc3325" stroke="none" stroke-width="0"/>
<text x="520.1" y="404.68" font-size="8.0" font-weight="normal" text-anchor="start" fill="#111" stroke="#111" stroke-width="0.18">PTSD-like</text>
<line x1="577.20" y1="452.30" x2="577.20" y2="460.60" stroke="#4a403c" stroke-width="0.9"/>
<polygon points="584.20,450.95 582.77,451.51 582.68,453.04 581.71,451.85 580.22,452.24 581.05,450.95 580.22,449.66 581.71,450.05 582.68,448.86 582.77,450.39" fill="#111"/>
<polygon points="584.20,454.85 582.77,455.41 582.68,456.94 581.71,455.75 580.22,456.14 581.05,454.85 580.22,453.56 581.71,453.95 582.68,452.76 582.77,454.29" fill="#111"/>
<polygon points="584.20,458.75 582.77,459.31 582.68,460.84 581.71,459.65 580.22,460.04 581.05,458.75 580.22,457.46 581.71,457.85 582.68,456.66 582.77,458.19" fill="#111"/>
<polygon points="584.20,462.65 582.77,463.21 582.68,464.74 581.71,463.55 580.22,463.94 581.05,462.65 580.22,461.36 581.71,461.75 582.68,460.56 582.77,462.09" fill="#111"/>
<line x1="619.40" y1="468.60" x2="619.40" y2="373.00" stroke="#3b3230" stroke-width="1.0"/>
<line x1="615.80" y1="468.60" x2="619.40" y2="468.60" stroke="#3b3230" stroke-width="1.0"/>
<text x="615.0" y="471.084" font-size="6.9" font-weight="bold" text-anchor="end" fill="#222" stroke="#222" stroke-width="0.18">0</text>
<line x1="615.80" y1="449.58" x2="619.40" y2="449.58" stroke="#3b3230" stroke-width="1.0"/>
<text x="615.0" y="452.064" font-size="6.9" font-weight="bold" text-anchor="end" fill="#222" stroke="#222" stroke-width="0.18">20</text>
<line x1="615.80" y1="430.56" x2="619.40" y2="430.56" stroke="#3b3230" stroke-width="1.0"/>
<text x="615.0" y="433.044" font-size="6.9" font-weight="bold" text-anchor="end" fill="#222" stroke="#222" stroke-width="0.18">40</text>
<line x1="615.80" y1="411.54" x2="619.40" y2="411.54" stroke="#3b3230" stroke-width="1.0"/>
<text x="615.0" y="414.024" font-size="6.9" font-weight="bold" text-anchor="end" fill="#222" stroke="#222" stroke-width="0.18">60</text>
<line x1="615.80" y1="392.52" x2="619.40" y2="392.52" stroke="#3b3230" stroke-width="1.0"/>
<text x="615.0" y="395.00399999999996" font-size="6.9" font-weight="bold" text-anchor="end" fill="#222" stroke="#222" stroke-width="0.18">80</text>
<line x1="615.80" y1="373.50" x2="619.40" y2="373.50" stroke="#3b3230" stroke-width="1.0"/>
<text x="615.0" y="375.984" font-size="6.9" font-weight="bold" text-anchor="end" fill="#222" stroke="#222" stroke-width="0.18">100</text>
<text x="597.6" y="420.9" font-size="7.6" font-weight="bold" text-anchor="middle" fill="#111" stroke="#111" stroke-width="0.18" transform="rotate(-90 597.6 420.9)">Freezing (%)</text>
<rect x="630.20" y="444.25" width="16.50" height="24.35" fill="#3b519e" stroke="#2b2222" stroke-width="1.4"/>
<rect x="657.50" y="409.64" width="16.70" height="58.96" fill="#dc3325" stroke="#2b2222" stroke-width="1.4"/>
<line x1="618.90" y1="468.60" x2="683.90" y2="468.60" stroke="#3b3230" stroke-width="1.0"/>
<line x1="638.10" y1="468.60" x2="638.10" y2="472.20" stroke="#3b3230" stroke-width="1.0"/>
<line x1="665.40" y1="468.60" x2="665.40" y2="472.20" stroke="#3b3230" stroke-width="1.0"/>
<circle cx="638.10" cy="425.42" r="1.45" fill="#fff" stroke="#1a1a1a" stroke-width="0.8"/>
<circle cx="638.10" cy="428.47" r="1.45" fill="#fff" stroke="#1a1a1a" stroke-width="0.8"/>
<circle cx="638.10" cy="431.51" r="1.45" fill="#fff" stroke="#1a1a1a" stroke-width="0.8"/>
<circle cx="638.10" cy="436.27" r="1.45" fill="#fff" stroke="#1a1a1a" stroke-width="0.8"/>
<circle cx="638.10" cy="438.64" r="1.45" fill="#fff" stroke="#1a1a1a" stroke-width="0.8"/>
<circle cx="638.10" cy="441.02" r="1.45" fill="#fff" stroke="#1a1a1a" stroke-width="0.8"/>
<circle cx="638.10" cy="443.40" r="1.45" fill="#fff" stroke="#1a1a1a" stroke-width="0.8"/>
<circle cx="638.10" cy="444.83" r="1.45" fill="#fff" stroke="#1a1a1a" stroke-width="0.8"/>
<circle cx="638.10" cy="449.87" r="1.45" fill="#fff" stroke="#1a1a1a" stroke-width="0.8"/>
<circle cx="638.10" cy="458.14" r="1.45" fill="#fff" stroke="#1a1a1a" stroke-width="0.8"/>
<circle cx="638.10" cy="460.99" r="1.45" fill="#fff" stroke="#1a1a1a" stroke-width="0.8"/>
<circle cx="638.10" cy="463.85" r="1.45" fill="#fff" stroke="#1a1a1a" stroke-width="0.8"/>
<line x1="638.40" y1="446.92" x2="638.40" y2="441.59" stroke="#2b2222" stroke-width="0.9"/>
<line x1="634.20" y1="446.92" x2="642.60" y2="446.92" stroke="#2b2222" stroke-width="0.9"/>
<line x1="634.20" y1="441.59" x2="642.60" y2="441.59" stroke="#2b2222" stroke-width="0.9"/>
<circle cx="665.50" cy="388.34" r="1.45" fill="#111" stroke="none" stroke-width="0"/>
<circle cx="665.50" cy="390.62" r="1.45" fill="#111" stroke="none" stroke-width="0"/>
<circle cx="665.50" cy="394.90" r="1.45" fill="#111" stroke="none" stroke-width="0"/>
<circle cx="665.50" cy="397.27" r="1.45" fill="#111" stroke="none" stroke-width="0"/>
<circle cx="665.50" cy="399.65" r="1.45" fill="#111" stroke="none" stroke-width="0"/>
<circle cx="665.50" cy="402.03" r="1.45" fill="#111" stroke="none" stroke-width="0"/>
<circle cx="665.50" cy="403.93" r="1.45" fill="#111" stroke="none" stroke-width="0"/>
<circle cx="665.50" cy="407.17" r="1.45" fill="#111" stroke="none" stroke-width="0"/>
<circle cx="665.50" cy="409.26" r="1.45" fill="#111" stroke="none" stroke-width="0"/>
<circle cx="665.50" cy="411.25" r="1.45" fill="#111" stroke="none" stroke-width="0"/>
<circle cx="665.50" cy="414.39" r="1.45" fill="#111" stroke="none" stroke-width="0"/>
<circle cx="665.50" cy="416.77" r="1.45" fill="#111" stroke="none" stroke-width="0"/>
<circle cx="665.50" cy="419.15" r="1.45" fill="#111" stroke="none" stroke-width="0"/>
<circle cx="665.50" cy="421.53" r="1.45" fill="#111" stroke="none" stroke-width="0"/>
<circle cx="665.50" cy="423.90" r="1.45" fill="#111" stroke="none" stroke-width="0"/>
<circle cx="665.50" cy="425.81" r="1.45" fill="#111" stroke="none" stroke-width="0"/>
<line x1="665.80" y1="412.49" x2="665.80" y2="406.79" stroke="#2b2222" stroke-width="0.9"/>
<line x1="661.60" y1="412.49" x2="670.00" y2="412.49" stroke="#2b2222" stroke-width="0.9"/>
<line x1="661.60" y1="406.79" x2="670.00" y2="406.79" stroke="#2b2222" stroke-width="0.9"/>
<polyline points="638.10,422.70 638.10,380.50 665.40,380.50 665.40,382.60" fill="none" stroke="#2b2323" stroke-width="0.9" stroke-linejoin="miter"/>
<polygon points="645.45,371.70 646.01,373.13 647.54,373.22 646.35,374.19 646.74,375.68 645.45,374.85 644.16,375.68 644.55,374.19 643.36,373.22 644.89,373.13" fill="#111"/>
<polygon points="649.65,371.70 650.21,373.13 651.74,373.22 650.55,374.19 650.94,375.68 649.65,374.85 648.36,375.68 648.75,374.19 647.56,373.22 649.09,373.13" fill="#111"/>
<polygon points="653.85,371.70 654.41,373.13 655.94,373.22 654.75,374.19 655.14,375.68 653.85,374.85 652.56,375.68 652.95,374.19 651.76,373.22 653.29,373.13" fill="#111"/>
<polygon points="658.05,371.70 658.61,373.13 660.14,373.22 658.95,374.19 659.34,375.68 658.05,374.85 656.76,375.68 657.15,374.19 655.96,373.22 657.49,373.13" fill="#111"/>
</svg></body></html>
